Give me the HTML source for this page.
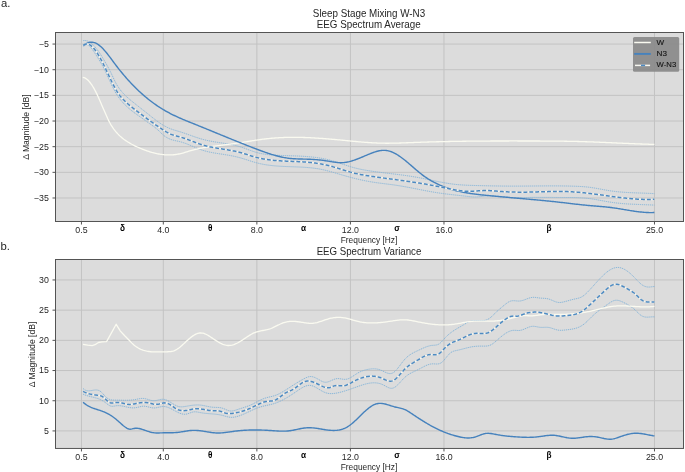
<!DOCTYPE html>
<html><head><meta charset="utf-8"><style>
html,body{margin:0;padding:0;background:#fff;}
svg{display:block;will-change:transform;}
text{font-family:"Liberation Sans",sans-serif;fill:#262626;}
.tk{font-size:8.8px;}
.gk{font-size:8.2px;font-weight:bold;fill:#000;}
.lb{font-size:8.4px;}
.tt{font-size:10.4px;}
.pl{font-size:11.3px;}
.lg{font-size:8.1px;fill:#141414;stroke:#141414;stroke-width:0.12px;}
</style></head><body>
<svg width="685" height="472" viewBox="0 0 685 472">
<rect width="685" height="472" fill="#fff"/>
<text x="1" y="6.6" class="pl">a.</text>
<text x="0.4" y="250.2" class="pl">b.</text>
<text x="369" y="16.7" text-anchor="middle" class="tt" textLength="112.3" lengthAdjust="spacingAndGlyphs">Sleep Stage Mixing W-N3</text>
<text x="368.7" y="27.5" text-anchor="middle" class="tt" textLength="104" lengthAdjust="spacingAndGlyphs">EEG Spectrum Average</text>
<text x="369" y="254.9" text-anchor="middle" class="tt" textLength="104.7" lengthAdjust="spacingAndGlyphs">EEG Spectrum Variance</text>
<rect x="55.5" y="32.5" width="628.0" height="189.0" fill="#dcdcdc"/>
<line x1="81.45" y1="32.5" x2="81.45" y2="221.5" stroke="#c3c3c3" stroke-width="1"/>
<line x1="163.31" y1="32.5" x2="163.31" y2="221.5" stroke="#c3c3c3" stroke-width="1"/>
<line x1="256.87" y1="32.5" x2="256.87" y2="221.5" stroke="#c3c3c3" stroke-width="1"/>
<line x1="350.42" y1="32.5" x2="350.42" y2="221.5" stroke="#c3c3c3" stroke-width="1"/>
<line x1="443.98" y1="32.5" x2="443.98" y2="221.5" stroke="#c3c3c3" stroke-width="1"/>
<line x1="654.48" y1="32.5" x2="654.48" y2="221.5" stroke="#c3c3c3" stroke-width="1"/>
<line x1="55.5" y1="44.06" x2="683.5" y2="44.06" stroke="#c3c3c3" stroke-width="1"/>
<line x1="55.5" y1="69.715" x2="683.5" y2="69.715" stroke="#c3c3c3" stroke-width="1"/>
<line x1="55.5" y1="95.37" x2="683.5" y2="95.37" stroke="#c3c3c3" stroke-width="1"/>
<line x1="55.5" y1="121.025" x2="683.5" y2="121.025" stroke="#c3c3c3" stroke-width="1"/>
<line x1="55.5" y1="146.68" x2="683.5" y2="146.68" stroke="#c3c3c3" stroke-width="1"/>
<line x1="55.5" y1="172.335" x2="683.5" y2="172.335" stroke="#c3c3c3" stroke-width="1"/>
<line x1="55.5" y1="197.99" x2="683.5" y2="197.99" stroke="#c3c3c3" stroke-width="1"/>
<path d="M83.3,40.62 L84.3,40.51 L85.3,40.53 L86.3,40.69 L87.3,40.98 L88.3,41.38 L89.3,41.91 L90.3,42.55 L91.3,43.30 L92.3,44.15 L93.3,45.10 L94.3,46.14 L95.3,47.27 L96.3,48.48 L97.3,49.77 L98.3,51.13 L99.3,52.56 L100.3,54.05 L101.3,55.60 L102.3,57.20 L103.3,58.85 L104.3,60.54 L105.3,62.26 L106.3,64.02 L107.3,65.82 L108.3,67.64 L109.3,69.52 L110.3,71.46 L111.3,73.48 L112.3,75.59 L113.3,77.76 L114.3,79.91 L115.3,81.95 L116.3,83.82 L117.3,85.52 L118.3,87.08 L119.3,88.53 L120.3,89.88 L121.3,91.15 L122.3,92.33 L123.3,93.45 L124.3,94.50 L125.3,95.50 L126.3,96.45 L127.3,97.36 L128.3,98.24 L129.3,99.10 L130.3,99.93 L131.3,100.75 L132.3,101.57 L133.3,102.38 L134.3,103.18 L135.3,103.98 L136.3,104.77 L137.3,105.56 L138.3,106.34 L139.3,107.12 L140.3,107.91 L141.3,108.69 L142.3,109.47 L143.3,110.26 L144.3,111.05 L145.3,111.84 L146.3,112.63 L147.3,113.43 L148.3,114.24 L149.3,115.04 L150.3,115.84 L151.3,116.63 L152.3,117.42 L153.3,118.21 L154.3,118.98 L155.3,119.74 L156.3,120.49 L157.3,121.23 L158.3,121.95 L159.3,122.65 L160.3,123.33 L161.3,123.99 L162.3,124.63 L163.3,125.24 L164.3,125.82 L165.3,126.38 L166.3,126.90 L167.3,127.40 L168.3,127.86 L169.3,128.28 L170.3,128.68 L171.3,129.06 L172.3,129.41 L173.3,129.75 L174.3,130.07 L175.3,130.37 L176.3,130.67 L177.3,130.97 L178.3,131.27 L179.3,131.56 L180.3,131.87 L181.3,132.18 L182.3,132.50 L183.3,132.83 L184.3,133.17 L185.3,133.51 L186.3,133.86 L187.3,134.21 L188.3,134.57 L189.3,134.92 L190.3,135.28 L191.3,135.64 L192.3,136.00 L193.3,136.35 L194.3,136.70 L195.3,137.04 L196.3,137.38 L197.3,137.71 L198.3,138.04 L199.3,138.35 L200.3,138.66 L201.3,138.95 L202.3,139.23 L203.3,139.50 L204.3,139.75 L205.3,140.00 L206.3,140.23 L207.3,140.46 L208.3,140.67 L209.3,140.88 L210.3,141.08 L211.3,141.27 L212.3,141.45 L213.3,141.63 L214.3,141.80 L215.3,141.97 L216.3,142.13 L217.3,142.29 L218.3,142.45 L219.3,142.61 L220.3,142.76 L221.3,142.91 L222.3,143.07 L223.3,143.22 L224.3,143.37 L225.3,143.53 L226.3,143.69 L227.3,143.86 L228.3,144.03 L229.3,144.20 L230.3,144.38 L231.3,144.57 L232.3,144.77 L233.3,144.98 L234.3,145.20 L235.3,145.43 L236.3,145.68 L237.3,145.94 L238.3,146.21 L239.3,146.50 L240.3,146.80 L241.3,147.12 L242.3,147.46 L243.3,147.81 L244.3,148.16 L245.3,148.53 L246.3,148.90 L247.3,149.27 L248.3,149.65 L249.3,150.02 L250.3,150.39 L251.3,150.75 L252.3,151.10 L253.3,151.44 L254.3,151.77 L255.3,152.09 L256.3,152.38 L257.3,152.66 L258.3,152.92 L259.3,153.16 L260.3,153.38 L261.3,153.59 L262.3,153.78 L263.3,153.95 L264.3,154.11 L265.3,154.26 L266.3,154.40 L267.3,154.52 L268.3,154.63 L269.3,154.74 L270.3,154.83 L271.3,154.91 L272.3,154.99 L273.3,155.06 L274.3,155.12 L275.3,155.18 L276.3,155.24 L277.3,155.29 L278.3,155.33 L279.3,155.38 L280.3,155.42 L281.3,155.46 L282.3,155.50 L283.3,155.53 L284.3,155.57 L285.3,155.60 L286.3,155.63 L287.3,155.66 L288.3,155.70 L289.3,155.73 L290.3,155.76 L291.3,155.79 L292.3,155.83 L293.3,155.86 L294.3,155.89 L295.3,155.93 L296.3,155.97 L297.3,156.01 L298.3,156.05 L299.3,156.10 L300.3,156.15 L301.3,156.20 L302.3,156.25 L303.3,156.31 L304.3,156.38 L305.3,156.44 L306.3,156.51 L307.3,156.59 L308.3,156.67 L309.3,156.76 L310.3,156.85 L311.3,156.94 L312.3,157.05 L313.3,157.16 L314.3,157.27 L315.3,157.40 L316.3,157.53 L317.3,157.66 L318.3,157.81 L319.3,157.96 L320.3,158.12 L321.3,158.29 L322.3,158.47 L323.3,158.66 L324.3,158.85 L325.3,159.06 L326.3,159.28 L327.3,159.50 L328.3,159.74 L329.3,159.98 L330.3,160.24 L331.3,160.51 L332.3,160.79 L333.3,161.08 L334.3,161.38 L335.3,161.69 L336.3,162.01 L337.3,162.33 L338.3,162.66 L339.3,162.99 L340.3,163.33 L341.3,163.67 L342.3,164.01 L343.3,164.35 L344.3,164.69 L345.3,165.02 L346.3,165.36 L347.3,165.69 L348.3,166.01 L349.3,166.33 L350.3,166.64 L351.3,166.94 L352.3,167.24 L353.3,167.52 L354.3,167.79 L355.3,168.05 L356.3,168.30 L357.3,168.54 L358.3,168.77 L359.3,168.99 L360.3,169.20 L361.3,169.41 L362.3,169.61 L363.3,169.80 L364.3,169.98 L365.3,170.16 L366.3,170.33 L367.3,170.49 L368.3,170.66 L369.3,170.81 L370.3,170.97 L371.3,171.12 L372.3,171.26 L373.3,171.41 L374.3,171.55 L375.3,171.69 L376.3,171.82 L377.3,171.96 L378.3,172.09 L379.3,172.22 L380.3,172.34 L381.3,172.47 L382.3,172.60 L383.3,172.72 L384.3,172.84 L385.3,172.97 L386.3,173.09 L387.3,173.21 L388.3,173.33 L389.3,173.45 L390.3,173.57 L391.3,173.69 L392.3,173.81 L393.3,173.93 L394.3,174.05 L395.3,174.17 L396.3,174.30 L397.3,174.42 L398.3,174.54 L399.3,174.67 L400.3,174.80 L401.3,174.93 L402.3,175.06 L403.3,175.19 L404.3,175.33 L405.3,175.47 L406.3,175.61 L407.3,175.75 L408.3,175.90 L409.3,176.05 L410.3,176.20 L411.3,176.36 L412.3,176.52 L413.3,176.68 L414.3,176.84 L415.3,177.02 L416.3,177.19 L417.3,177.37 L418.3,177.55 L419.3,177.74 L420.3,177.93 L421.3,178.13 L422.3,178.32 L423.3,178.52 L424.3,178.72 L425.3,178.93 L426.3,179.13 L427.3,179.34 L428.3,179.55 L429.3,179.76 L430.3,179.97 L431.3,180.18 L432.3,180.39 L433.3,180.59 L434.3,180.80 L435.3,181.01 L436.3,181.21 L437.3,181.42 L438.3,181.62 L439.3,181.81 L440.3,182.01 L441.3,182.20 L442.3,182.39 L443.3,182.58 L444.3,182.76 L445.3,182.93 L446.3,183.10 L447.3,183.27 L448.3,183.43 L449.3,183.59 L450.3,183.74 L451.3,183.88 L452.3,184.01 L453.3,184.14 L454.3,184.27 L455.3,184.38 L456.3,184.49 L457.3,184.58 L458.3,184.68 L459.3,184.76 L460.3,184.84 L461.3,184.91 L462.3,184.98 L463.3,185.04 L464.3,185.10 L465.3,185.15 L466.3,185.20 L467.3,185.24 L468.3,185.28 L469.3,185.32 L470.3,185.36 L471.3,185.39 L472.3,185.42 L473.3,185.45 L474.3,185.48 L475.3,185.50 L476.3,185.53 L477.3,185.55 L478.3,185.58 L479.3,185.60 L480.3,185.63 L481.3,185.65 L482.3,185.68 L483.3,185.70 L484.3,185.72 L485.3,185.75 L486.3,185.77 L487.3,185.79 L488.3,185.81 L489.3,185.83 L490.3,185.86 L491.3,185.88 L492.3,185.90 L493.3,185.91 L494.3,185.93 L495.3,185.95 L496.3,185.97 L497.3,185.98 L498.3,186.00 L499.3,186.01 L500.3,186.03 L501.3,186.04 L502.3,186.05 L503.3,186.06 L504.3,186.07 L505.3,186.08 L506.3,186.09 L507.3,186.10 L508.3,186.11 L509.3,186.11 L510.3,186.11 L511.3,186.12 L512.3,186.12 L513.3,186.12 L514.3,186.12 L515.3,186.12 L516.3,186.12 L517.3,186.11 L518.3,186.11 L519.3,186.11 L520.3,186.10 L521.3,186.10 L522.3,186.09 L523.3,186.08 L524.3,186.08 L525.3,186.07 L526.3,186.06 L527.3,186.06 L528.3,186.05 L529.3,186.04 L530.3,186.03 L531.3,186.02 L532.3,186.01 L533.3,186.01 L534.3,186.00 L535.3,185.99 L536.3,185.98 L537.3,185.97 L538.3,185.96 L539.3,185.96 L540.3,185.95 L541.3,185.94 L542.3,185.93 L543.3,185.93 L544.3,185.92 L545.3,185.92 L546.3,185.91 L547.3,185.91 L548.3,185.90 L549.3,185.90 L550.3,185.90 L551.3,185.90 L552.3,185.90 L553.3,185.90 L554.3,185.90 L555.3,185.90 L556.3,185.91 L557.3,185.91 L558.3,185.92 L559.3,185.93 L560.3,185.93 L561.3,185.94 L562.3,185.95 L563.3,185.97 L564.3,185.98 L565.3,186.00 L566.3,186.01 L567.3,186.03 L568.3,186.05 L569.3,186.07 L570.3,186.10 L571.3,186.12 L572.3,186.15 L573.3,186.18 L574.3,186.21 L575.3,186.24 L576.3,186.28 L577.3,186.32 L578.3,186.37 L579.3,186.42 L580.3,186.47 L581.3,186.53 L582.3,186.60 L583.3,186.67 L584.3,186.75 L585.3,186.84 L586.3,186.93 L587.3,187.03 L588.3,187.15 L589.3,187.27 L590.3,187.39 L591.3,187.53 L592.3,187.68 L593.3,187.83 L594.3,188.00 L595.3,188.16 L596.3,188.34 L597.3,188.51 L598.3,188.69 L599.3,188.88 L600.3,189.06 L601.3,189.25 L602.3,189.43 L603.3,189.62 L604.3,189.80 L605.3,189.98 L606.3,190.16 L607.3,190.33 L608.3,190.50 L609.3,190.66 L610.3,190.82 L611.3,190.97 L612.3,191.11 L613.3,191.24 L614.3,191.36 L615.3,191.48 L616.3,191.60 L617.3,191.70 L618.3,191.80 L619.3,191.90 L620.3,191.99 L621.3,192.07 L622.3,192.15 L623.3,192.23 L624.3,192.30 L625.3,192.36 L626.3,192.43 L627.3,192.49 L628.3,192.54 L629.3,192.59 L630.3,192.64 L631.3,192.69 L632.3,192.73 L633.3,192.78 L634.3,192.82 L635.3,192.86 L636.3,192.89 L637.3,192.93 L638.3,192.97 L639.3,193.00 L640.3,193.03 L641.3,193.07 L642.3,193.10 L643.3,193.14 L644.3,193.18 L645.3,193.21 L646.3,193.25 L647.3,193.29 L648.3,193.33 L649.3,193.38 L650.3,193.42 L651.3,193.47 L652.3,193.52 L653.3,193.57 L654.3,193.63 L654.4,193.64" fill="none" stroke="#85b5da" stroke-width="1" stroke-dasharray="1.2 0.8"/>
<path d="M83.3,45.55 L84.3,44.72 L85.3,44.30 L86.3,44.25 L87.3,44.54 L88.3,45.10 L89.3,45.91 L90.3,46.91 L91.3,48.07 L92.3,49.36 L93.3,50.74 L94.3,52.21 L95.3,53.75 L96.3,55.32 L97.3,56.93 L98.3,58.54 L99.3,60.17 L100.3,61.84 L101.3,63.56 L102.3,65.34 L103.3,67.20 L104.3,69.14 L105.3,71.16 L106.3,73.23 L107.3,75.35 L108.3,77.51 L109.3,79.68 L110.3,81.86 L111.3,84.01 L112.3,86.12 L113.3,88.17 L114.3,90.13 L115.3,91.98 L116.3,93.70 L117.3,95.31 L118.3,96.81 L119.3,98.21 L120.3,99.52 L121.3,100.75 L122.3,101.92 L123.3,103.02 L124.3,104.07 L125.3,105.08 L126.3,106.05 L127.3,106.99 L128.3,107.88 L129.3,108.75 L130.3,109.59 L131.3,110.40 L132.3,111.19 L133.3,111.96 L134.3,112.71 L135.3,113.44 L136.3,114.16 L137.3,114.88 L138.3,115.59 L139.3,116.29 L140.3,116.99 L141.3,117.70 L142.3,118.41 L143.3,119.12 L144.3,119.83 L145.3,120.55 L146.3,121.26 L147.3,121.97 L148.3,122.68 L149.3,123.39 L150.3,124.09 L151.3,124.80 L152.3,125.51 L153.3,126.23 L154.3,126.97 L155.3,127.75 L156.3,128.55 L157.3,129.41 L158.3,130.31 L159.3,131.27 L160.3,132.24 L161.3,133.22 L162.3,134.16 L163.3,135.05 L164.3,135.86 L165.3,136.59 L166.3,137.25 L167.3,137.84 L168.3,138.35 L169.3,138.81 L170.3,139.21 L171.3,139.57 L172.3,139.88 L173.3,140.16 L174.3,140.41 L175.3,140.64 L176.3,140.86 L177.3,141.08 L178.3,141.30 L179.3,141.53 L180.3,141.77 L181.3,142.04 L182.3,142.34 L183.3,142.66 L184.3,142.99 L185.3,143.35 L186.3,143.73 L187.3,144.11 L188.3,144.52 L189.3,144.93 L190.3,145.34 L191.3,145.77 L192.3,146.19 L193.3,146.62 L194.3,147.05 L195.3,147.47 L196.3,147.89 L197.3,148.29 L198.3,148.69 L199.3,149.08 L200.3,149.45 L201.3,149.81 L202.3,150.15 L203.3,150.46 L204.3,150.76 L205.3,151.04 L206.3,151.31 L207.3,151.56 L208.3,151.80 L209.3,152.02 L210.3,152.23 L211.3,152.43 L212.3,152.62 L213.3,152.80 L214.3,152.98 L215.3,153.15 L216.3,153.31 L217.3,153.47 L218.3,153.62 L219.3,153.77 L220.3,153.92 L221.3,154.07 L222.3,154.22 L223.3,154.37 L224.3,154.53 L225.3,154.69 L226.3,154.85 L227.3,155.01 L228.3,155.19 L229.3,155.36 L230.3,155.55 L231.3,155.74 L232.3,155.93 L233.3,156.14 L234.3,156.35 L235.3,156.57 L236.3,156.80 L237.3,157.05 L238.3,157.30 L239.3,157.56 L240.3,157.83 L241.3,158.12 L242.3,158.42 L243.3,158.72 L244.3,159.03 L245.3,159.35 L246.3,159.67 L247.3,159.99 L248.3,160.32 L249.3,160.64 L250.3,160.96 L251.3,161.28 L252.3,161.59 L253.3,161.89 L254.3,162.19 L255.3,162.47 L256.3,162.75 L257.3,163.01 L258.3,163.26 L259.3,163.49 L260.3,163.72 L261.3,163.93 L262.3,164.13 L263.3,164.32 L264.3,164.50 L265.3,164.67 L266.3,164.83 L267.3,164.98 L268.3,165.12 L269.3,165.25 L270.3,165.38 L271.3,165.50 L272.3,165.60 L273.3,165.71 L274.3,165.80 L275.3,165.89 L276.3,165.97 L277.3,166.05 L278.3,166.12 L279.3,166.19 L280.3,166.25 L281.3,166.31 L282.3,166.36 L283.3,166.41 L284.3,166.46 L285.3,166.50 L286.3,166.54 L287.3,166.58 L288.3,166.62 L289.3,166.66 L290.3,166.69 L291.3,166.73 L292.3,166.76 L293.3,166.80 L294.3,166.83 L295.3,166.87 L296.3,166.90 L297.3,166.94 L298.3,166.98 L299.3,167.03 L300.3,167.07 L301.3,167.12 L302.3,167.18 L303.3,167.23 L304.3,167.29 L305.3,167.36 L306.3,167.43 L307.3,167.50 L308.3,167.59 L309.3,167.67 L310.3,167.77 L311.3,167.87 L312.3,167.98 L313.3,168.10 L314.3,168.22 L315.3,168.36 L316.3,168.50 L317.3,168.65 L318.3,168.82 L319.3,168.99 L320.3,169.17 L321.3,169.37 L322.3,169.57 L323.3,169.79 L324.3,170.01 L325.3,170.25 L326.3,170.49 L327.3,170.75 L328.3,171.01 L329.3,171.27 L330.3,171.54 L331.3,171.82 L332.3,172.10 L333.3,172.39 L334.3,172.68 L335.3,172.97 L336.3,173.27 L337.3,173.56 L338.3,173.86 L339.3,174.16 L340.3,174.45 L341.3,174.75 L342.3,175.04 L343.3,175.33 L344.3,175.61 L345.3,175.90 L346.3,176.18 L347.3,176.46 L348.3,176.73 L349.3,177.00 L350.3,177.27 L351.3,177.53 L352.3,177.80 L353.3,178.05 L354.3,178.30 L355.3,178.55 L356.3,178.80 L357.3,179.04 L358.3,179.27 L359.3,179.50 L360.3,179.73 L361.3,179.95 L362.3,180.17 L363.3,180.38 L364.3,180.59 L365.3,180.79 L366.3,180.99 L367.3,181.18 L368.3,181.36 L369.3,181.54 L370.3,181.72 L371.3,181.89 L372.3,182.05 L373.3,182.21 L374.3,182.36 L375.3,182.50 L376.3,182.65 L377.3,182.79 L378.3,182.92 L379.3,183.06 L380.3,183.19 L381.3,183.32 L382.3,183.44 L383.3,183.57 L384.3,183.69 L385.3,183.82 L386.3,183.94 L387.3,184.07 L388.3,184.19 L389.3,184.32 L390.3,184.45 L391.3,184.58 L392.3,184.71 L393.3,184.85 L394.3,184.99 L395.3,185.14 L396.3,185.29 L397.3,185.44 L398.3,185.60 L399.3,185.76 L400.3,185.92 L401.3,186.09 L402.3,186.26 L403.3,186.43 L404.3,186.61 L405.3,186.79 L406.3,186.97 L407.3,187.16 L408.3,187.35 L409.3,187.53 L410.3,187.72 L411.3,187.92 L412.3,188.11 L413.3,188.30 L414.3,188.50 L415.3,188.69 L416.3,188.89 L417.3,189.09 L418.3,189.28 L419.3,189.48 L420.3,189.67 L421.3,189.87 L422.3,190.06 L423.3,190.26 L424.3,190.45 L425.3,190.64 L426.3,190.83 L427.3,191.01 L428.3,191.20 L429.3,191.38 L430.3,191.56 L431.3,191.74 L432.3,191.91 L433.3,192.09 L434.3,192.25 L435.3,192.42 L436.3,192.58 L437.3,192.74 L438.3,192.89 L439.3,193.04 L440.3,193.19 L441.3,193.33 L442.3,193.46 L443.3,193.60 L444.3,193.73 L445.3,193.86 L446.3,193.99 L447.3,194.11 L448.3,194.23 L449.3,194.35 L450.3,194.47 L451.3,194.58 L452.3,194.70 L453.3,194.81 L454.3,194.92 L455.3,195.03 L456.3,195.14 L457.3,195.25 L458.3,195.36 L459.3,195.47 L460.3,195.58 L461.3,195.69 L462.3,195.81 L463.3,195.92 L464.3,196.03 L465.3,196.15 L466.3,196.26 L467.3,196.38 L468.3,196.49 L469.3,196.60 L470.3,196.71 L471.3,196.80 L472.3,196.87 L473.3,196.93 L474.3,196.97 L475.3,196.98 L476.3,196.96 L477.3,196.92 L478.3,196.84 L479.3,196.74 L480.3,196.63 L481.3,196.50 L482.3,196.36 L483.3,196.22 L484.3,196.08 L485.3,195.96 L486.3,195.85 L487.3,195.76 L488.3,195.70 L489.3,195.66 L490.3,195.64 L491.3,195.65 L492.3,195.68 L493.3,195.72 L494.3,195.78 L495.3,195.86 L496.3,195.95 L497.3,196.04 L498.3,196.15 L499.3,196.26 L500.3,196.38 L501.3,196.50 L502.3,196.63 L503.3,196.75 L504.3,196.87 L505.3,196.99 L506.3,197.10 L507.3,197.20 L508.3,197.29 L509.3,197.37 L510.3,197.44 L511.3,197.50 L512.3,197.55 L513.3,197.58 L514.3,197.61 L515.3,197.64 L516.3,197.65 L517.3,197.66 L518.3,197.66 L519.3,197.65 L520.3,197.64 L521.3,197.63 L522.3,197.61 L523.3,197.59 L524.3,197.57 L525.3,197.55 L526.3,197.52 L527.3,197.50 L528.3,197.48 L529.3,197.45 L530.3,197.44 L531.3,197.42 L532.3,197.40 L533.3,197.39 L534.3,197.38 L535.3,197.37 L536.3,197.37 L537.3,197.36 L538.3,197.36 L539.3,197.36 L540.3,197.36 L541.3,197.36 L542.3,197.36 L543.3,197.36 L544.3,197.37 L545.3,197.37 L546.3,197.38 L547.3,197.39 L548.3,197.39 L549.3,197.40 L550.3,197.41 L551.3,197.42 L552.3,197.43 L553.3,197.43 L554.3,197.44 L555.3,197.45 L556.3,197.46 L557.3,197.46 L558.3,197.47 L559.3,197.48 L560.3,197.48 L561.3,197.48 L562.3,197.49 L563.3,197.49 L564.3,197.49 L565.3,197.50 L566.3,197.50 L567.3,197.50 L568.3,197.51 L569.3,197.51 L570.3,197.52 L571.3,197.53 L572.3,197.55 L573.3,197.57 L574.3,197.59 L575.3,197.61 L576.3,197.64 L577.3,197.67 L578.3,197.71 L579.3,197.76 L580.3,197.81 L581.3,197.86 L582.3,197.92 L583.3,197.99 L584.3,198.07 L585.3,198.15 L586.3,198.25 L587.3,198.35 L588.3,198.46 L589.3,198.57 L590.3,198.70 L591.3,198.84 L592.3,198.99 L593.3,199.14 L594.3,199.30 L595.3,199.47 L596.3,199.64 L597.3,199.82 L598.3,200.00 L599.3,200.18 L600.3,200.36 L601.3,200.55 L602.3,200.74 L603.3,200.92 L604.3,201.11 L605.3,201.29 L606.3,201.47 L607.3,201.65 L608.3,201.82 L609.3,201.98 L610.3,202.14 L611.3,202.29 L612.3,202.44 L613.3,202.58 L614.3,202.71 L615.3,202.83 L616.3,202.95 L617.3,203.07 L618.3,203.17 L619.3,203.28 L620.3,203.37 L621.3,203.46 L622.3,203.55 L623.3,203.63 L624.3,203.71 L625.3,203.78 L626.3,203.85 L627.3,203.92 L628.3,203.98 L629.3,204.04 L630.3,204.10 L631.3,204.15 L632.3,204.20 L633.3,204.25 L634.3,204.29 L635.3,204.34 L636.3,204.38 L637.3,204.42 L638.3,204.46 L639.3,204.50 L640.3,204.54 L641.3,204.57 L642.3,204.61 L643.3,204.65 L644.3,204.68 L645.3,204.72 L646.3,204.76 L647.3,204.80 L648.3,204.84 L649.3,204.88 L650.3,204.92 L651.3,204.96 L652.3,205.01 L653.3,205.05 L654.3,205.10 L654.4,205.11" fill="none" stroke="#85b5da" stroke-width="1" stroke-dasharray="1.2 0.8"/>
<path d="M82.8,77.28 L83.8,77.51 L84.8,77.91 L85.8,78.47 L86.8,79.19 L87.8,80.06 L88.8,81.07 L89.8,82.23 L90.8,83.52 L91.8,84.94 L92.8,86.49 L93.8,88.17 L94.8,89.95 L95.8,91.86 L96.8,93.87 L97.8,95.98 L98.8,98.19 L99.8,100.47 L100.8,102.80 L101.8,105.15 L102.8,107.47 L103.8,109.77 L104.8,112.05 L105.8,114.32 L106.8,116.58 L107.8,118.79 L108.8,120.86 L109.8,122.78 L110.8,124.56 L111.8,126.20 L112.8,127.71 L113.8,129.12 L114.8,130.44 L115.8,131.66 L116.8,132.81 L117.8,133.90 L118.8,134.91 L119.8,135.87 L120.8,136.77 L121.8,137.62 L122.8,138.42 L123.8,139.19 L124.8,139.91 L125.8,140.61 L126.8,141.27 L127.8,141.92 L128.8,142.54 L129.8,143.13 L130.8,143.71 L131.8,144.27 L132.8,144.80 L133.8,145.32 L134.8,145.82 L135.8,146.30 L136.8,146.77 L137.8,147.22 L138.8,147.66 L139.8,148.09 L140.8,148.50 L141.8,148.91 L142.8,149.30 L143.8,149.68 L144.8,150.06 L145.8,150.42 L146.8,150.77 L147.8,151.11 L148.8,151.44 L149.8,151.76 L150.8,152.06 L151.8,152.36 L152.8,152.63 L153.8,152.90 L154.8,153.15 L155.8,153.38 L156.8,153.60 L157.8,153.81 L158.8,154.00 L159.8,154.17 L160.8,154.33 L161.8,154.47 L162.8,154.60 L163.8,154.70 L164.8,154.79 L165.8,154.86 L166.8,154.91 L167.8,154.94 L168.8,154.96 L169.8,154.95 L170.8,154.93 L171.8,154.89 L172.8,154.82 L173.8,154.74 L174.8,154.64 L175.8,154.51 L176.8,154.37 L177.8,154.20 L178.8,154.01 L179.8,153.80 L180.8,153.57 L181.8,153.32 L182.8,153.05 L183.8,152.77 L184.8,152.47 L185.8,152.17 L186.8,151.86 L187.8,151.55 L188.8,151.24 L189.8,150.93 L190.8,150.63 L191.8,150.34 L192.8,150.07 L193.8,149.80 L194.8,149.55 L195.8,149.30 L196.8,149.07 L197.8,148.84 L198.8,148.62 L199.8,148.42 L200.8,148.22 L201.8,148.03 L202.8,147.84 L203.8,147.66 L204.8,147.49 L205.8,147.33 L206.8,147.17 L207.8,147.01 L208.8,146.86 L209.8,146.72 L210.8,146.58 L211.8,146.44 L212.8,146.30 L213.8,146.17 L214.8,146.04 L215.8,145.91 L216.8,145.79 L217.8,145.66 L218.8,145.54 L219.8,145.42 L220.8,145.30 L221.8,145.18 L222.8,145.06 L223.8,144.94 L224.8,144.81 L225.8,144.69 L226.8,144.57 L227.8,144.45 L228.8,144.32 L229.8,144.19 L230.8,144.06 L231.8,143.93 L232.8,143.79 L233.8,143.65 L234.8,143.51 L235.8,143.37 L236.8,143.22 L237.8,143.07 L238.8,142.92 L239.8,142.76 L240.8,142.61 L241.8,142.45 L242.8,142.29 L243.8,142.13 L244.8,141.97 L245.8,141.81 L246.8,141.65 L247.8,141.49 L248.8,141.32 L249.8,141.16 L250.8,141.00 L251.8,140.84 L252.8,140.69 L253.8,140.53 L254.8,140.37 L255.8,140.22 L256.8,140.07 L257.8,139.92 L258.8,139.78 L259.8,139.64 L260.8,139.50 L261.8,139.36 L262.8,139.23 L263.8,139.10 L264.8,138.98 L265.8,138.86 L266.8,138.74 L267.8,138.63 L268.8,138.53 L269.8,138.43 L270.8,138.33 L271.8,138.24 L272.8,138.16 L273.8,138.07 L274.8,138.00 L275.8,137.93 L276.8,137.86 L277.8,137.79 L278.8,137.73 L279.8,137.68 L280.8,137.63 L281.8,137.58 L282.8,137.54 L283.8,137.50 L284.8,137.47 L285.8,137.44 L286.8,137.41 L287.8,137.39 L288.8,137.37 L289.8,137.35 L290.8,137.34 L291.8,137.33 L292.8,137.33 L293.8,137.32 L294.8,137.33 L295.8,137.33 L296.8,137.34 L297.8,137.35 L298.8,137.37 L299.8,137.39 L300.8,137.41 L301.8,137.43 L302.8,137.46 L303.8,137.49 L304.8,137.52 L305.8,137.55 L306.8,137.59 L307.8,137.63 L308.8,137.68 L309.8,137.72 L310.8,137.77 L311.8,137.82 L312.8,137.87 L313.8,137.93 L314.8,137.99 L315.8,138.05 L316.8,138.11 L317.8,138.17 L318.8,138.24 L319.8,138.30 L320.8,138.37 L321.8,138.45 L322.8,138.52 L323.8,138.59 L324.8,138.67 L325.8,138.75 L326.8,138.83 L327.8,138.91 L328.8,138.99 L329.8,139.07 L330.8,139.16 L331.8,139.25 L332.8,139.33 L333.8,139.42 L334.8,139.51 L335.8,139.60 L336.8,139.69 L337.8,139.79 L338.8,139.88 L339.8,139.97 L340.8,140.07 L341.8,140.16 L342.8,140.26 L343.8,140.36 L344.8,140.45 L345.8,140.55 L346.8,140.65 L347.8,140.75 L348.8,140.84 L349.8,140.94 L350.8,141.04 L351.8,141.13 L352.8,141.23 L353.8,141.32 L354.8,141.42 L355.8,141.51 L356.8,141.60 L357.8,141.69 L358.8,141.78 L359.8,141.87 L360.8,141.96 L361.8,142.04 L362.8,142.12 L363.8,142.20 L364.8,142.28 L365.8,142.36 L366.8,142.43 L367.8,142.50 L368.8,142.57 L369.8,142.64 L370.8,142.70 L371.8,142.76 L372.8,142.82 L373.8,142.87 L374.8,142.92 L375.8,142.97 L376.8,143.02 L377.8,143.06 L378.8,143.09 L379.8,143.12 L380.8,143.15 L381.8,143.18 L382.8,143.19 L383.8,143.21 L384.8,143.22 L385.8,143.23 L386.8,143.23 L387.8,143.23 L388.8,143.23 L389.8,143.22 L390.8,143.21 L391.8,143.20 L392.8,143.19 L393.8,143.17 L394.8,143.15 L395.8,143.12 L396.8,143.10 L397.8,143.07 L398.8,143.04 L399.8,143.01 L400.8,142.98 L401.8,142.95 L402.8,142.91 L403.8,142.88 L404.8,142.84 L405.8,142.80 L406.8,142.76 L407.8,142.73 L408.8,142.69 L409.8,142.65 L410.8,142.61 L411.8,142.57 L412.8,142.53 L413.8,142.49 L414.8,142.46 L415.8,142.42 L416.8,142.38 L417.8,142.35 L418.8,142.31 L419.8,142.28 L420.8,142.24 L421.8,142.21 L422.8,142.18 L423.8,142.15 L424.8,142.11 L425.8,142.08 L426.8,142.05 L427.8,142.02 L428.8,141.99 L429.8,141.96 L430.8,141.94 L431.8,141.91 L432.8,141.88 L433.8,141.85 L434.8,141.83 L435.8,141.80 L436.8,141.77 L437.8,141.75 L438.8,141.73 L439.8,141.70 L440.8,141.68 L441.8,141.65 L442.8,141.63 L443.8,141.61 L444.8,141.59 L445.8,141.57 L446.8,141.55 L447.8,141.53 L448.8,141.51 L449.8,141.49 L450.8,141.47 L451.8,141.45 L452.8,141.43 L453.8,141.41 L454.8,141.40 L455.8,141.38 L456.8,141.36 L457.8,141.35 L458.8,141.33 L459.8,141.32 L460.8,141.30 L461.8,141.29 L462.8,141.27 L463.8,141.26 L464.8,141.25 L465.8,141.23 L466.8,141.22 L467.8,141.21 L468.8,141.20 L469.8,141.19 L470.8,141.18 L471.8,141.17 L472.8,141.15 L473.8,141.14 L474.8,141.14 L475.8,141.13 L476.8,141.12 L477.8,141.11 L478.8,141.10 L479.8,141.09 L480.8,141.08 L481.8,141.08 L482.8,141.07 L483.8,141.06 L484.8,141.06 L485.8,141.05 L486.8,141.04 L487.8,141.04 L488.8,141.03 L489.8,141.03 L490.8,141.02 L491.8,141.02 L492.8,141.01 L493.8,141.01 L494.8,141.01 L495.8,141.00 L496.8,141.00 L497.8,141.00 L498.8,140.99 L499.8,140.99 L500.8,140.99 L501.8,140.99 L502.8,140.98 L503.8,140.98 L504.8,140.98 L505.8,140.98 L506.8,140.98 L507.8,140.98 L508.8,140.98 L509.8,140.97 L510.8,140.97 L511.8,140.97 L512.8,140.97 L513.8,140.97 L514.8,140.97 L515.8,140.97 L516.8,140.97 L517.8,140.98 L518.8,140.98 L519.8,140.98 L520.8,140.98 L521.8,140.98 L522.8,140.98 L523.8,140.98 L524.8,140.98 L525.8,140.99 L526.8,140.99 L527.8,140.99 L528.8,140.99 L529.8,140.99 L530.8,140.99 L531.8,141.00 L532.8,141.00 L533.8,141.00 L534.8,141.00 L535.8,141.01 L536.8,141.01 L537.8,141.01 L538.8,141.02 L539.8,141.02 L540.8,141.03 L541.8,141.03 L542.8,141.03 L543.8,141.04 L544.8,141.04 L545.8,141.05 L546.8,141.06 L547.8,141.06 L548.8,141.07 L549.8,141.08 L550.8,141.08 L551.8,141.09 L552.8,141.10 L553.8,141.11 L554.8,141.12 L555.8,141.13 L556.8,141.14 L557.8,141.15 L558.8,141.16 L559.8,141.17 L560.8,141.18 L561.8,141.20 L562.8,141.21 L563.8,141.22 L564.8,141.24 L565.8,141.25 L566.8,141.27 L567.8,141.29 L568.8,141.31 L569.8,141.32 L570.8,141.34 L571.8,141.36 L572.8,141.38 L573.8,141.40 L574.8,141.43 L575.8,141.45 L576.8,141.47 L577.8,141.50 L578.8,141.52 L579.8,141.55 L580.8,141.58 L581.8,141.61 L582.8,141.63 L583.8,141.66 L584.8,141.70 L585.8,141.73 L586.8,141.76 L587.8,141.79 L588.8,141.83 L589.8,141.86 L590.8,141.90 L591.8,141.94 L592.8,141.97 L593.8,142.01 L594.8,142.05 L595.8,142.09 L596.8,142.13 L597.8,142.17 L598.8,142.21 L599.8,142.25 L600.8,142.29 L601.8,142.33 L602.8,142.37 L603.8,142.42 L604.8,142.46 L605.8,142.50 L606.8,142.55 L607.8,142.59 L608.8,142.63 L609.8,142.68 L610.8,142.72 L611.8,142.77 L612.8,142.81 L613.8,142.86 L614.8,142.90 L615.8,142.95 L616.8,142.99 L617.8,143.03 L618.8,143.08 L619.8,143.12 L620.8,143.17 L621.8,143.21 L622.8,143.26 L623.8,143.30 L624.8,143.34 L625.8,143.39 L626.8,143.43 L627.8,143.47 L628.8,143.52 L629.8,143.56 L630.8,143.60 L631.8,143.64 L632.8,143.68 L633.8,143.72 L634.8,143.76 L635.8,143.80 L636.8,143.84 L637.8,143.88 L638.8,143.91 L639.8,143.95 L640.8,143.99 L641.8,144.02 L642.8,144.06 L643.8,144.09 L644.8,144.12 L645.8,144.16 L646.8,144.19 L647.8,144.22 L648.8,144.25 L649.8,144.28 L650.8,144.30 L651.8,144.33 L652.8,144.36 L653.8,144.38 L654.4,144.39" fill="none" stroke="#fafaf0" stroke-width="1.3" stroke-linejoin="round" stroke-linecap="butt"/>
<path d="M83.3,46.11 L84.3,45.17 L85.3,44.36 L86.3,43.69 L87.3,43.14 L88.3,42.71 L89.3,42.41 L90.3,42.22 L91.3,42.15 L92.3,42.19 L93.3,42.34 L94.3,42.60 L95.3,42.96 L96.3,43.42 L97.3,43.98 L98.3,44.63 L99.3,45.37 L100.3,46.20 L101.3,47.10 L102.3,48.07 L103.3,49.11 L104.3,50.21 L105.3,51.36 L106.3,52.56 L107.3,53.80 L108.3,55.07 L109.3,56.37 L110.3,57.69 L111.3,59.03 L112.3,60.37 L113.3,61.72 L114.3,63.07 L115.3,64.40 L116.3,65.72 L117.3,67.02 L118.3,68.31 L119.3,69.58 L120.3,70.82 L121.3,72.06 L122.3,73.27 L123.3,74.47 L124.3,75.65 L125.3,76.82 L126.3,77.96 L127.3,79.10 L128.3,80.21 L129.3,81.31 L130.3,82.39 L131.3,83.46 L132.3,84.51 L133.3,85.54 L134.3,86.56 L135.3,87.56 L136.3,88.54 L137.3,89.51 L138.3,90.47 L139.3,91.41 L140.3,92.33 L141.3,93.24 L142.3,94.14 L143.3,95.02 L144.3,95.88 L145.3,96.73 L146.3,97.57 L147.3,98.39 L148.3,99.19 L149.3,99.98 L150.3,100.76 L151.3,101.53 L152.3,102.28 L153.3,103.01 L154.3,103.73 L155.3,104.44 L156.3,105.14 L157.3,105.82 L158.3,106.48 L159.3,107.14 L160.3,107.78 L161.3,108.41 L162.3,109.02 L163.3,109.63 L164.3,110.21 L165.3,110.79 L166.3,111.36 L167.3,111.91 L168.3,112.45 L169.3,112.99 L170.3,113.51 L171.3,114.02 L172.3,114.52 L173.3,115.02 L174.3,115.50 L175.3,115.98 L176.3,116.45 L177.3,116.91 L178.3,117.36 L179.3,117.81 L180.3,118.25 L181.3,118.69 L182.3,119.12 L183.3,119.54 L184.3,119.96 L185.3,120.38 L186.3,120.80 L187.3,121.21 L188.3,121.61 L189.3,122.02 L190.3,122.42 L191.3,122.82 L192.3,123.22 L193.3,123.62 L194.3,124.02 L195.3,124.42 L196.3,124.82 L197.3,125.22 L198.3,125.63 L199.3,126.03 L200.3,126.43 L201.3,126.84 L202.3,127.24 L203.3,127.65 L204.3,128.06 L205.3,128.46 L206.3,128.87 L207.3,129.28 L208.3,129.69 L209.3,130.10 L210.3,130.51 L211.3,130.92 L212.3,131.33 L213.3,131.74 L214.3,132.16 L215.3,132.57 L216.3,132.98 L217.3,133.39 L218.3,133.80 L219.3,134.21 L220.3,134.62 L221.3,135.04 L222.3,135.45 L223.3,135.86 L224.3,136.27 L225.3,136.68 L226.3,137.09 L227.3,137.50 L228.3,137.91 L229.3,138.31 L230.3,138.72 L231.3,139.13 L232.3,139.54 L233.3,139.94 L234.3,140.35 L235.3,140.75 L236.3,141.16 L237.3,141.56 L238.3,141.96 L239.3,142.36 L240.3,142.76 L241.3,143.16 L242.3,143.56 L243.3,143.96 L244.3,144.35 L245.3,144.75 L246.3,145.14 L247.3,145.53 L248.3,145.93 L249.3,146.32 L250.3,146.71 L251.3,147.09 L252.3,147.48 L253.3,147.86 L254.3,148.25 L255.3,148.63 L256.3,149.01 L257.3,149.39 L258.3,149.76 L259.3,150.14 L260.3,150.51 L261.3,150.88 L262.3,151.24 L263.3,151.60 L264.3,151.96 L265.3,152.31 L266.3,152.66 L267.3,153.00 L268.3,153.33 L269.3,153.66 L270.3,153.98 L271.3,154.30 L272.3,154.61 L273.3,154.91 L274.3,155.20 L275.3,155.48 L276.3,155.76 L277.3,156.02 L278.3,156.28 L279.3,156.52 L280.3,156.75 L281.3,156.98 L282.3,157.19 L283.3,157.39 L284.3,157.58 L285.3,157.75 L286.3,157.92 L287.3,158.07 L288.3,158.20 L289.3,158.32 L290.3,158.43 L291.3,158.53 L292.3,158.62 L293.3,158.70 L294.3,158.76 L295.3,158.82 L296.3,158.87 L297.3,158.92 L298.3,158.96 L299.3,158.99 L300.3,159.02 L301.3,159.05 L302.3,159.07 L303.3,159.10 L304.3,159.12 L305.3,159.15 L306.3,159.17 L307.3,159.20 L308.3,159.23 L309.3,159.26 L310.3,159.30 L311.3,159.35 L312.3,159.40 L313.3,159.46 L314.3,159.52 L315.3,159.59 L316.3,159.67 L317.3,159.75 L318.3,159.84 L319.3,159.94 L320.3,160.05 L321.3,160.16 L322.3,160.28 L323.3,160.41 L324.3,160.54 L325.3,160.69 L326.3,160.84 L327.3,161.00 L328.3,161.17 L329.3,161.34 L330.3,161.51 L331.3,161.68 L332.3,161.85 L333.3,162.00 L334.3,162.15 L335.3,162.29 L336.3,162.41 L337.3,162.51 L338.3,162.59 L339.3,162.65 L340.3,162.69 L341.3,162.69 L342.3,162.66 L343.3,162.60 L344.3,162.51 L345.3,162.39 L346.3,162.23 L347.3,162.05 L348.3,161.84 L349.3,161.61 L350.3,161.35 L351.3,161.07 L352.3,160.77 L353.3,160.45 L354.3,160.12 L355.3,159.76 L356.3,159.40 L357.3,159.02 L358.3,158.63 L359.3,158.23 L360.3,157.82 L361.3,157.41 L362.3,156.99 L363.3,156.57 L364.3,156.15 L365.3,155.72 L366.3,155.30 L367.3,154.88 L368.3,154.47 L369.3,154.06 L370.3,153.66 L371.3,153.27 L372.3,152.89 L373.3,152.52 L374.3,152.17 L375.3,151.84 L376.3,151.54 L377.3,151.26 L378.3,151.01 L379.3,150.80 L380.3,150.62 L381.3,150.48 L382.3,150.39 L383.3,150.34 L384.3,150.33 L385.3,150.39 L386.3,150.49 L387.3,150.65 L388.3,150.86 L389.3,151.12 L390.3,151.42 L391.3,151.77 L392.3,152.17 L393.3,152.61 L394.3,153.09 L395.3,153.61 L396.3,154.17 L397.3,154.77 L398.3,155.40 L399.3,156.06 L400.3,156.75 L401.3,157.47 L402.3,158.21 L403.3,158.98 L404.3,159.77 L405.3,160.57 L406.3,161.39 L407.3,162.22 L408.3,163.07 L409.3,163.93 L410.3,164.79 L411.3,165.65 L412.3,166.52 L413.3,167.39 L414.3,168.26 L415.3,169.12 L416.3,169.97 L417.3,170.82 L418.3,171.65 L419.3,172.48 L420.3,173.28 L421.3,174.07 L422.3,174.84 L423.3,175.58 L424.3,176.31 L425.3,177.01 L426.3,177.69 L427.3,178.35 L428.3,178.99 L429.3,179.62 L430.3,180.22 L431.3,180.81 L432.3,181.37 L433.3,181.92 L434.3,182.46 L435.3,182.97 L436.3,183.47 L437.3,183.96 L438.3,184.43 L439.3,184.88 L440.3,185.32 L441.3,185.75 L442.3,186.16 L443.3,186.56 L444.3,186.95 L445.3,187.32 L446.3,187.68 L447.3,188.03 L448.3,188.37 L449.3,188.70 L450.3,189.02 L451.3,189.32 L452.3,189.62 L453.3,189.90 L454.3,190.18 L455.3,190.45 L456.3,190.70 L457.3,190.95 L458.3,191.19 L459.3,191.42 L460.3,191.64 L461.3,191.85 L462.3,192.06 L463.3,192.26 L464.3,192.45 L465.3,192.63 L466.3,192.81 L467.3,192.98 L468.3,193.15 L469.3,193.31 L470.3,193.46 L471.3,193.61 L472.3,193.75 L473.3,193.89 L474.3,194.02 L475.3,194.15 L476.3,194.28 L477.3,194.40 L478.3,194.52 L479.3,194.63 L480.3,194.75 L481.3,194.86 L482.3,194.96 L483.3,195.07 L484.3,195.17 L485.3,195.27 L486.3,195.37 L487.3,195.47 L488.3,195.57 L489.3,195.67 L490.3,195.76 L491.3,195.86 L492.3,195.96 L493.3,196.05 L494.3,196.14 L495.3,196.24 L496.3,196.33 L497.3,196.42 L498.3,196.52 L499.3,196.61 L500.3,196.70 L501.3,196.79 L502.3,196.88 L503.3,196.97 L504.3,197.06 L505.3,197.15 L506.3,197.24 L507.3,197.32 L508.3,197.41 L509.3,197.50 L510.3,197.59 L511.3,197.68 L512.3,197.76 L513.3,197.85 L514.3,197.94 L515.3,198.03 L516.3,198.11 L517.3,198.20 L518.3,198.29 L519.3,198.38 L520.3,198.46 L521.3,198.55 L522.3,198.64 L523.3,198.73 L524.3,198.81 L525.3,198.90 L526.3,198.99 L527.3,199.08 L528.3,199.17 L529.3,199.26 L530.3,199.35 L531.3,199.44 L532.3,199.53 L533.3,199.62 L534.3,199.71 L535.3,199.80 L536.3,199.89 L537.3,199.99 L538.3,200.08 L539.3,200.17 L540.3,200.27 L541.3,200.36 L542.3,200.46 L543.3,200.56 L544.3,200.65 L545.3,200.75 L546.3,200.85 L547.3,200.95 L548.3,201.05 L549.3,201.15 L550.3,201.25 L551.3,201.36 L552.3,201.46 L553.3,201.56 L554.3,201.67 L555.3,201.78 L556.3,201.88 L557.3,201.99 L558.3,202.10 L559.3,202.21 L560.3,202.33 L561.3,202.44 L562.3,202.55 L563.3,202.67 L564.3,202.79 L565.3,202.90 L566.3,203.02 L567.3,203.14 L568.3,203.26 L569.3,203.37 L570.3,203.49 L571.3,203.61 L572.3,203.73 L573.3,203.85 L574.3,203.96 L575.3,204.08 L576.3,204.20 L577.3,204.31 L578.3,204.42 L579.3,204.54 L580.3,204.65 L581.3,204.76 L582.3,204.86 L583.3,204.97 L584.3,205.07 L585.3,205.17 L586.3,205.27 L587.3,205.37 L588.3,205.46 L589.3,205.55 L590.3,205.64 L591.3,205.73 L592.3,205.81 L593.3,205.89 L594.3,205.97 L595.3,206.05 L596.3,206.13 L597.3,206.21 L598.3,206.29 L599.3,206.37 L600.3,206.45 L601.3,206.53 L602.3,206.62 L603.3,206.70 L604.3,206.79 L605.3,206.89 L606.3,206.99 L607.3,207.09 L608.3,207.20 L609.3,207.31 L610.3,207.43 L611.3,207.56 L612.3,207.69 L613.3,207.83 L614.3,207.98 L615.3,208.12 L616.3,208.28 L617.3,208.43 L618.3,208.59 L619.3,208.75 L620.3,208.92 L621.3,209.08 L622.3,209.25 L623.3,209.42 L624.3,209.59 L625.3,209.76 L626.3,209.93 L627.3,210.09 L628.3,210.26 L629.3,210.42 L630.3,210.58 L631.3,210.74 L632.3,210.90 L633.3,211.05 L634.3,211.20 L635.3,211.34 L636.3,211.48 L637.3,211.61 L638.3,211.74 L639.3,211.86 L640.3,211.97 L641.3,212.07 L642.3,212.17 L643.3,212.26 L644.3,212.34 L645.3,212.41 L646.3,212.47 L647.3,212.52 L648.3,212.56 L649.3,212.58 L650.3,212.60 L651.3,212.60 L652.3,212.59 L653.3,212.57 L654.3,212.53 L654.4,212.53" fill="none" stroke="#4682bd" stroke-width="1.4" stroke-linejoin="round"/>
<path d="M83.3,45.14 L84.3,44.53 L85.3,44.15 L86.3,43.98 L87.3,44.01 L88.3,44.23 L89.3,44.64 L90.3,45.21 L91.3,45.95 L92.3,46.83 L93.3,47.86 L94.3,49.02 L95.3,50.31 L96.3,51.70 L97.3,53.20 L98.3,54.80 L99.3,56.48 L100.3,58.25 L101.3,60.10 L102.3,62.01 L103.3,63.99 L104.3,66.03 L105.3,68.10 L106.3,70.21 L107.3,72.34 L108.3,74.47 L109.3,76.60 L110.3,78.70 L111.3,80.78 L112.3,82.81 L113.3,84.79 L114.3,86.70 L115.3,88.53 L116.3,90.27 L117.3,91.91 L118.3,93.43 L119.3,94.84 L120.3,96.15 L121.3,97.37 L122.3,98.50 L123.3,99.57 L124.3,100.57 L125.3,101.53 L126.3,102.45 L127.3,103.34 L128.3,104.22 L129.3,105.07 L130.3,105.91 L131.3,106.73 L132.3,107.54 L133.3,108.33 L134.3,109.12 L135.3,109.89 L136.3,110.66 L137.3,111.42 L138.3,112.17 L139.3,112.92 L140.3,113.66 L141.3,114.40 L142.3,115.15 L143.3,115.89 L144.3,116.63 L145.3,117.36 L146.3,118.10 L147.3,118.83 L148.3,119.57 L149.3,120.29 L150.3,121.02 L151.3,121.74 L152.3,122.46 L153.3,123.17 L154.3,123.88 L155.3,124.58 L156.3,125.28 L157.3,125.97 L158.3,126.65 L159.3,127.33 L160.3,128.00 L161.3,128.67 L162.3,129.33 L163.3,129.98 L164.3,130.62 L165.3,131.24 L166.3,131.85 L167.3,132.43 L168.3,132.98 L169.3,133.48 L170.3,133.95 L171.3,134.36 L172.3,134.74 L173.3,135.08 L174.3,135.39 L175.3,135.68 L176.3,135.95 L177.3,136.22 L178.3,136.48 L179.3,136.74 L180.3,137.02 L181.3,137.31 L182.3,137.61 L183.3,137.93 L184.3,138.27 L185.3,138.62 L186.3,138.97 L187.3,139.34 L188.3,139.71 L189.3,140.09 L190.3,140.48 L191.3,140.87 L192.3,141.25 L193.3,141.64 L194.3,142.03 L195.3,142.41 L196.3,142.79 L197.3,143.16 L198.3,143.52 L199.3,143.88 L200.3,144.22 L201.3,144.55 L202.3,144.86 L203.3,145.16 L204.3,145.45 L205.3,145.72 L206.3,145.98 L207.3,146.23 L208.3,146.46 L209.3,146.69 L210.3,146.91 L211.3,147.11 L212.3,147.31 L213.3,147.51 L214.3,147.69 L215.3,147.87 L216.3,148.04 L217.3,148.21 L218.3,148.38 L219.3,148.54 L220.3,148.70 L221.3,148.86 L222.3,149.02 L223.3,149.18 L224.3,149.33 L225.3,149.49 L226.3,149.65 L227.3,149.82 L228.3,149.99 L229.3,150.16 L230.3,150.33 L231.3,150.52 L232.3,150.70 L233.3,150.90 L234.3,151.10 L235.3,151.31 L236.3,151.54 L237.3,151.77 L238.3,152.01 L239.3,152.26 L240.3,152.53 L241.3,152.81 L242.3,153.10 L243.3,153.39 L244.3,153.70 L245.3,154.01 L246.3,154.32 L247.3,154.64 L248.3,154.96 L249.3,155.28 L250.3,155.60 L251.3,155.91 L252.3,156.22 L253.3,156.52 L254.3,156.81 L255.3,157.10 L256.3,157.37 L257.3,157.63 L258.3,157.87 L259.3,158.11 L260.3,158.33 L261.3,158.54 L262.3,158.74 L263.3,158.93 L264.3,159.11 L265.3,159.28 L266.3,159.44 L267.3,159.59 L268.3,159.73 L269.3,159.86 L270.3,159.99 L271.3,160.10 L272.3,160.21 L273.3,160.31 L274.3,160.41 L275.3,160.50 L276.3,160.58 L277.3,160.66 L278.3,160.73 L279.3,160.80 L280.3,160.86 L281.3,160.92 L282.3,160.98 L283.3,161.03 L284.3,161.08 L285.3,161.12 L286.3,161.17 L287.3,161.21 L288.3,161.25 L289.3,161.29 L290.3,161.32 L291.3,161.36 L292.3,161.40 L293.3,161.44 L294.3,161.48 L295.3,161.52 L296.3,161.56 L297.3,161.60 L298.3,161.64 L299.3,161.69 L300.3,161.74 L301.3,161.79 L302.3,161.85 L303.3,161.91 L304.3,161.98 L305.3,162.05 L306.3,162.12 L307.3,162.20 L308.3,162.29 L309.3,162.38 L310.3,162.48 L311.3,162.59 L312.3,162.70 L313.3,162.82 L314.3,162.95 L315.3,163.08 L316.3,163.22 L317.3,163.37 L318.3,163.53 L319.3,163.69 L320.3,163.87 L321.3,164.05 L322.3,164.24 L323.3,164.43 L324.3,164.64 L325.3,164.85 L326.3,165.07 L327.3,165.30 L328.3,165.54 L329.3,165.79 L330.3,166.05 L331.3,166.31 L332.3,166.59 L333.3,166.87 L334.3,167.16 L335.3,167.46 L336.3,167.76 L337.3,168.07 L338.3,168.38 L339.3,168.70 L340.3,169.02 L341.3,169.34 L342.3,169.65 L343.3,169.97 L344.3,170.29 L345.3,170.60 L346.3,170.91 L347.3,171.22 L348.3,171.52 L349.3,171.81 L350.3,172.10 L351.3,172.38 L352.3,172.65 L353.3,172.91 L354.3,173.16 L355.3,173.40 L356.3,173.63 L357.3,173.85 L358.3,174.07 L359.3,174.27 L360.3,174.47 L361.3,174.66 L362.3,174.84 L363.3,175.02 L364.3,175.19 L365.3,175.36 L366.3,175.53 L367.3,175.69 L368.3,175.84 L369.3,175.99 L370.3,176.15 L371.3,176.29 L372.3,176.44 L373.3,176.59 L374.3,176.73 L375.3,176.88 L376.3,177.02 L377.3,177.16 L378.3,177.30 L379.3,177.44 L380.3,177.58 L381.3,177.72 L382.3,177.86 L383.3,177.99 L384.3,178.13 L385.3,178.27 L386.3,178.40 L387.3,178.54 L388.3,178.67 L389.3,178.81 L390.3,178.94 L391.3,179.08 L392.3,179.21 L393.3,179.34 L394.3,179.48 L395.3,179.61 L396.3,179.75 L397.3,179.88 L398.3,180.02 L399.3,180.16 L400.3,180.29 L401.3,180.43 L402.3,180.57 L403.3,180.71 L404.3,180.85 L405.3,180.99 L406.3,181.13 L407.3,181.27 L408.3,181.41 L409.3,181.56 L410.3,181.70 L411.3,181.85 L412.3,182.00 L413.3,182.15 L414.3,182.30 L415.3,182.46 L416.3,182.61 L417.3,182.77 L418.3,182.93 L419.3,183.09 L420.3,183.25 L421.3,183.41 L422.3,183.58 L423.3,183.75 L424.3,183.92 L425.3,184.09 L426.3,184.26 L427.3,184.44 L428.3,184.62 L429.3,184.80 L430.3,184.99 L431.3,185.18 L432.3,185.37 L433.3,185.56 L434.3,185.75 L435.3,185.94 L436.3,186.14 L437.3,186.33 L438.3,186.53 L439.3,186.73 L440.3,186.93 L441.3,187.13 L442.3,187.34 L443.3,187.54 L444.3,187.74 L445.3,187.94 L446.3,188.15 L447.3,188.35 L448.3,188.55 L449.3,188.76 L450.3,188.96 L451.3,189.16 L452.3,189.36 L453.3,189.55 L454.3,189.74 L455.3,189.92 L456.3,190.10 L457.3,190.27 L458.3,190.42 L459.3,190.57 L460.3,190.71 L461.3,190.83 L462.3,190.94 L463.3,191.04 L464.3,191.12 L465.3,191.19 L466.3,191.24 L467.3,191.27 L468.3,191.28 L469.3,191.28 L470.3,191.26 L471.3,191.24 L472.3,191.20 L473.3,191.16 L474.3,191.11 L475.3,191.05 L476.3,190.99 L477.3,190.93 L478.3,190.86 L479.3,190.80 L480.3,190.74 L481.3,190.69 L482.3,190.64 L483.3,190.60 L484.3,190.57 L485.3,190.55 L486.3,190.54 L487.3,190.55 L488.3,190.57 L489.3,190.61 L490.3,190.66 L491.3,190.72 L492.3,190.79 L493.3,190.86 L494.3,190.94 L495.3,191.03 L496.3,191.11 L497.3,191.20 L498.3,191.28 L499.3,191.36 L500.3,191.43 L501.3,191.50 L502.3,191.57 L503.3,191.63 L504.3,191.69 L505.3,191.75 L506.3,191.80 L507.3,191.85 L508.3,191.90 L509.3,191.94 L510.3,191.98 L511.3,192.01 L512.3,192.04 L513.3,192.07 L514.3,192.09 L515.3,192.12 L516.3,192.13 L517.3,192.15 L518.3,192.16 L519.3,192.17 L520.3,192.17 L521.3,192.17 L522.3,192.17 L523.3,192.17 L524.3,192.16 L525.3,192.15 L526.3,192.14 L527.3,192.12 L528.3,192.11 L529.3,192.09 L530.3,192.07 L531.3,192.05 L532.3,192.02 L533.3,192.00 L534.3,191.97 L535.3,191.95 L536.3,191.92 L537.3,191.89 L538.3,191.87 L539.3,191.84 L540.3,191.81 L541.3,191.78 L542.3,191.75 L543.3,191.73 L544.3,191.70 L545.3,191.67 L546.3,191.65 L547.3,191.63 L548.3,191.60 L549.3,191.58 L550.3,191.56 L551.3,191.54 L552.3,191.53 L553.3,191.51 L554.3,191.50 L555.3,191.49 L556.3,191.48 L557.3,191.48 L558.3,191.47 L559.3,191.48 L560.3,191.48 L561.3,191.49 L562.3,191.50 L563.3,191.51 L564.3,191.53 L565.3,191.55 L566.3,191.58 L567.3,191.61 L568.3,191.64 L569.3,191.68 L570.3,191.73 L571.3,191.78 L572.3,191.83 L573.3,191.89 L574.3,191.95 L575.3,192.02 L576.3,192.10 L577.3,192.17 L578.3,192.26 L579.3,192.34 L580.3,192.43 L581.3,192.53 L582.3,192.63 L583.3,192.73 L584.3,192.83 L585.3,192.94 L586.3,193.05 L587.3,193.16 L588.3,193.28 L589.3,193.40 L590.3,193.52 L591.3,193.65 L592.3,193.77 L593.3,193.90 L594.3,194.03 L595.3,194.16 L596.3,194.29 L597.3,194.43 L598.3,194.56 L599.3,194.70 L600.3,194.84 L601.3,194.98 L602.3,195.11 L603.3,195.25 L604.3,195.39 L605.3,195.53 L606.3,195.67 L607.3,195.81 L608.3,195.95 L609.3,196.09 L610.3,196.23 L611.3,196.36 L612.3,196.50 L613.3,196.64 L614.3,196.77 L615.3,196.90 L616.3,197.03 L617.3,197.16 L618.3,197.29 L619.3,197.41 L620.3,197.54 L621.3,197.66 L622.3,197.78 L623.3,197.89 L624.3,198.00 L625.3,198.11 L626.3,198.22 L627.3,198.32 L628.3,198.42 L629.3,198.52 L630.3,198.61 L631.3,198.70 L632.3,198.78 L633.3,198.86 L634.3,198.94 L635.3,199.01 L636.3,199.08 L637.3,199.14 L638.3,199.20 L639.3,199.25 L640.3,199.30 L641.3,199.34 L642.3,199.37 L643.3,199.40 L644.3,199.43 L645.3,199.44 L646.3,199.45 L647.3,199.46 L648.3,199.46 L649.3,199.45 L650.3,199.44 L651.3,199.41 L652.3,199.39 L653.3,199.35 L654.3,199.31 L654.4,199.30" fill="none" stroke="#f4f4ee" stroke-width="1.5" stroke-linejoin="round"/>
<path d="M83.3,45.14 L84.3,44.53 L85.3,44.15 L86.3,43.98 L87.3,44.01 L88.3,44.23 L89.3,44.64 L90.3,45.21 L91.3,45.95 L92.3,46.83 L93.3,47.86 L94.3,49.02 L95.3,50.31 L96.3,51.70 L97.3,53.20 L98.3,54.80 L99.3,56.48 L100.3,58.25 L101.3,60.10 L102.3,62.01 L103.3,63.99 L104.3,66.03 L105.3,68.10 L106.3,70.21 L107.3,72.34 L108.3,74.47 L109.3,76.60 L110.3,78.70 L111.3,80.78 L112.3,82.81 L113.3,84.79 L114.3,86.70 L115.3,88.53 L116.3,90.27 L117.3,91.91 L118.3,93.43 L119.3,94.84 L120.3,96.15 L121.3,97.37 L122.3,98.50 L123.3,99.57 L124.3,100.57 L125.3,101.53 L126.3,102.45 L127.3,103.34 L128.3,104.22 L129.3,105.07 L130.3,105.91 L131.3,106.73 L132.3,107.54 L133.3,108.33 L134.3,109.12 L135.3,109.89 L136.3,110.66 L137.3,111.42 L138.3,112.17 L139.3,112.92 L140.3,113.66 L141.3,114.40 L142.3,115.15 L143.3,115.89 L144.3,116.63 L145.3,117.36 L146.3,118.10 L147.3,118.83 L148.3,119.57 L149.3,120.29 L150.3,121.02 L151.3,121.74 L152.3,122.46 L153.3,123.17 L154.3,123.88 L155.3,124.58 L156.3,125.28 L157.3,125.97 L158.3,126.65 L159.3,127.33 L160.3,128.00 L161.3,128.67 L162.3,129.33 L163.3,129.98 L164.3,130.62 L165.3,131.24 L166.3,131.85 L167.3,132.43 L168.3,132.98 L169.3,133.48 L170.3,133.95 L171.3,134.36 L172.3,134.74 L173.3,135.08 L174.3,135.39 L175.3,135.68 L176.3,135.95 L177.3,136.22 L178.3,136.48 L179.3,136.74 L180.3,137.02 L181.3,137.31 L182.3,137.61 L183.3,137.93 L184.3,138.27 L185.3,138.62 L186.3,138.97 L187.3,139.34 L188.3,139.71 L189.3,140.09 L190.3,140.48 L191.3,140.87 L192.3,141.25 L193.3,141.64 L194.3,142.03 L195.3,142.41 L196.3,142.79 L197.3,143.16 L198.3,143.52 L199.3,143.88 L200.3,144.22 L201.3,144.55 L202.3,144.86 L203.3,145.16 L204.3,145.45 L205.3,145.72 L206.3,145.98 L207.3,146.23 L208.3,146.46 L209.3,146.69 L210.3,146.91 L211.3,147.11 L212.3,147.31 L213.3,147.51 L214.3,147.69 L215.3,147.87 L216.3,148.04 L217.3,148.21 L218.3,148.38 L219.3,148.54 L220.3,148.70 L221.3,148.86 L222.3,149.02 L223.3,149.18 L224.3,149.33 L225.3,149.49 L226.3,149.65 L227.3,149.82 L228.3,149.99 L229.3,150.16 L230.3,150.33 L231.3,150.52 L232.3,150.70 L233.3,150.90 L234.3,151.10 L235.3,151.31 L236.3,151.54 L237.3,151.77 L238.3,152.01 L239.3,152.26 L240.3,152.53 L241.3,152.81 L242.3,153.10 L243.3,153.39 L244.3,153.70 L245.3,154.01 L246.3,154.32 L247.3,154.64 L248.3,154.96 L249.3,155.28 L250.3,155.60 L251.3,155.91 L252.3,156.22 L253.3,156.52 L254.3,156.81 L255.3,157.10 L256.3,157.37 L257.3,157.63 L258.3,157.87 L259.3,158.11 L260.3,158.33 L261.3,158.54 L262.3,158.74 L263.3,158.93 L264.3,159.11 L265.3,159.28 L266.3,159.44 L267.3,159.59 L268.3,159.73 L269.3,159.86 L270.3,159.99 L271.3,160.10 L272.3,160.21 L273.3,160.31 L274.3,160.41 L275.3,160.50 L276.3,160.58 L277.3,160.66 L278.3,160.73 L279.3,160.80 L280.3,160.86 L281.3,160.92 L282.3,160.98 L283.3,161.03 L284.3,161.08 L285.3,161.12 L286.3,161.17 L287.3,161.21 L288.3,161.25 L289.3,161.29 L290.3,161.32 L291.3,161.36 L292.3,161.40 L293.3,161.44 L294.3,161.48 L295.3,161.52 L296.3,161.56 L297.3,161.60 L298.3,161.64 L299.3,161.69 L300.3,161.74 L301.3,161.79 L302.3,161.85 L303.3,161.91 L304.3,161.98 L305.3,162.05 L306.3,162.12 L307.3,162.20 L308.3,162.29 L309.3,162.38 L310.3,162.48 L311.3,162.59 L312.3,162.70 L313.3,162.82 L314.3,162.95 L315.3,163.08 L316.3,163.22 L317.3,163.37 L318.3,163.53 L319.3,163.69 L320.3,163.87 L321.3,164.05 L322.3,164.24 L323.3,164.43 L324.3,164.64 L325.3,164.85 L326.3,165.07 L327.3,165.30 L328.3,165.54 L329.3,165.79 L330.3,166.05 L331.3,166.31 L332.3,166.59 L333.3,166.87 L334.3,167.16 L335.3,167.46 L336.3,167.76 L337.3,168.07 L338.3,168.38 L339.3,168.70 L340.3,169.02 L341.3,169.34 L342.3,169.65 L343.3,169.97 L344.3,170.29 L345.3,170.60 L346.3,170.91 L347.3,171.22 L348.3,171.52 L349.3,171.81 L350.3,172.10 L351.3,172.38 L352.3,172.65 L353.3,172.91 L354.3,173.16 L355.3,173.40 L356.3,173.63 L357.3,173.85 L358.3,174.07 L359.3,174.27 L360.3,174.47 L361.3,174.66 L362.3,174.84 L363.3,175.02 L364.3,175.19 L365.3,175.36 L366.3,175.53 L367.3,175.69 L368.3,175.84 L369.3,175.99 L370.3,176.15 L371.3,176.29 L372.3,176.44 L373.3,176.59 L374.3,176.73 L375.3,176.88 L376.3,177.02 L377.3,177.16 L378.3,177.30 L379.3,177.44 L380.3,177.58 L381.3,177.72 L382.3,177.86 L383.3,177.99 L384.3,178.13 L385.3,178.27 L386.3,178.40 L387.3,178.54 L388.3,178.67 L389.3,178.81 L390.3,178.94 L391.3,179.08 L392.3,179.21 L393.3,179.34 L394.3,179.48 L395.3,179.61 L396.3,179.75 L397.3,179.88 L398.3,180.02 L399.3,180.16 L400.3,180.29 L401.3,180.43 L402.3,180.57 L403.3,180.71 L404.3,180.85 L405.3,180.99 L406.3,181.13 L407.3,181.27 L408.3,181.41 L409.3,181.56 L410.3,181.70 L411.3,181.85 L412.3,182.00 L413.3,182.15 L414.3,182.30 L415.3,182.46 L416.3,182.61 L417.3,182.77 L418.3,182.93 L419.3,183.09 L420.3,183.25 L421.3,183.41 L422.3,183.58 L423.3,183.75 L424.3,183.92 L425.3,184.09 L426.3,184.26 L427.3,184.44 L428.3,184.62 L429.3,184.80 L430.3,184.99 L431.3,185.18 L432.3,185.37 L433.3,185.56 L434.3,185.75 L435.3,185.94 L436.3,186.14 L437.3,186.33 L438.3,186.53 L439.3,186.73 L440.3,186.93 L441.3,187.13 L442.3,187.34 L443.3,187.54 L444.3,187.74 L445.3,187.94 L446.3,188.15 L447.3,188.35 L448.3,188.55 L449.3,188.76 L450.3,188.96 L451.3,189.16 L452.3,189.36 L453.3,189.55 L454.3,189.74 L455.3,189.92 L456.3,190.10 L457.3,190.27 L458.3,190.42 L459.3,190.57 L460.3,190.71 L461.3,190.83 L462.3,190.94 L463.3,191.04 L464.3,191.12 L465.3,191.19 L466.3,191.24 L467.3,191.27 L468.3,191.28 L469.3,191.28 L470.3,191.26 L471.3,191.24 L472.3,191.20 L473.3,191.16 L474.3,191.11 L475.3,191.05 L476.3,190.99 L477.3,190.93 L478.3,190.86 L479.3,190.80 L480.3,190.74 L481.3,190.69 L482.3,190.64 L483.3,190.60 L484.3,190.57 L485.3,190.55 L486.3,190.54 L487.3,190.55 L488.3,190.57 L489.3,190.61 L490.3,190.66 L491.3,190.72 L492.3,190.79 L493.3,190.86 L494.3,190.94 L495.3,191.03 L496.3,191.11 L497.3,191.20 L498.3,191.28 L499.3,191.36 L500.3,191.43 L501.3,191.50 L502.3,191.57 L503.3,191.63 L504.3,191.69 L505.3,191.75 L506.3,191.80 L507.3,191.85 L508.3,191.90 L509.3,191.94 L510.3,191.98 L511.3,192.01 L512.3,192.04 L513.3,192.07 L514.3,192.09 L515.3,192.12 L516.3,192.13 L517.3,192.15 L518.3,192.16 L519.3,192.17 L520.3,192.17 L521.3,192.17 L522.3,192.17 L523.3,192.17 L524.3,192.16 L525.3,192.15 L526.3,192.14 L527.3,192.12 L528.3,192.11 L529.3,192.09 L530.3,192.07 L531.3,192.05 L532.3,192.02 L533.3,192.00 L534.3,191.97 L535.3,191.95 L536.3,191.92 L537.3,191.89 L538.3,191.87 L539.3,191.84 L540.3,191.81 L541.3,191.78 L542.3,191.75 L543.3,191.73 L544.3,191.70 L545.3,191.67 L546.3,191.65 L547.3,191.63 L548.3,191.60 L549.3,191.58 L550.3,191.56 L551.3,191.54 L552.3,191.53 L553.3,191.51 L554.3,191.50 L555.3,191.49 L556.3,191.48 L557.3,191.48 L558.3,191.47 L559.3,191.48 L560.3,191.48 L561.3,191.49 L562.3,191.50 L563.3,191.51 L564.3,191.53 L565.3,191.55 L566.3,191.58 L567.3,191.61 L568.3,191.64 L569.3,191.68 L570.3,191.73 L571.3,191.78 L572.3,191.83 L573.3,191.89 L574.3,191.95 L575.3,192.02 L576.3,192.10 L577.3,192.17 L578.3,192.26 L579.3,192.34 L580.3,192.43 L581.3,192.53 L582.3,192.63 L583.3,192.73 L584.3,192.83 L585.3,192.94 L586.3,193.05 L587.3,193.16 L588.3,193.28 L589.3,193.40 L590.3,193.52 L591.3,193.65 L592.3,193.77 L593.3,193.90 L594.3,194.03 L595.3,194.16 L596.3,194.29 L597.3,194.43 L598.3,194.56 L599.3,194.70 L600.3,194.84 L601.3,194.98 L602.3,195.11 L603.3,195.25 L604.3,195.39 L605.3,195.53 L606.3,195.67 L607.3,195.81 L608.3,195.95 L609.3,196.09 L610.3,196.23 L611.3,196.36 L612.3,196.50 L613.3,196.64 L614.3,196.77 L615.3,196.90 L616.3,197.03 L617.3,197.16 L618.3,197.29 L619.3,197.41 L620.3,197.54 L621.3,197.66 L622.3,197.78 L623.3,197.89 L624.3,198.00 L625.3,198.11 L626.3,198.22 L627.3,198.32 L628.3,198.42 L629.3,198.52 L630.3,198.61 L631.3,198.70 L632.3,198.78 L633.3,198.86 L634.3,198.94 L635.3,199.01 L636.3,199.08 L637.3,199.14 L638.3,199.20 L639.3,199.25 L640.3,199.30 L641.3,199.34 L642.3,199.37 L643.3,199.40 L644.3,199.43 L645.3,199.44 L646.3,199.45 L647.3,199.46 L648.3,199.46 L649.3,199.45 L650.3,199.44 L651.3,199.41 L652.3,199.39 L653.3,199.35 L654.3,199.31 L654.4,199.30" fill="none" stroke="#4d8ac2" stroke-width="1.5" stroke-dasharray="3.9 2.0" stroke-linejoin="round"/>
<rect x="55.5" y="32.5" width="628.0" height="189.0" fill="none" stroke="#545454" stroke-width="1"/>
<line x1="52.5" y1="44.06" x2="55.5" y2="44.06" stroke="#545454" stroke-width="1"/>
<line x1="52.5" y1="69.715" x2="55.5" y2="69.715" stroke="#545454" stroke-width="1"/>
<line x1="52.5" y1="95.37" x2="55.5" y2="95.37" stroke="#545454" stroke-width="1"/>
<line x1="52.5" y1="121.025" x2="55.5" y2="121.025" stroke="#545454" stroke-width="1"/>
<line x1="52.5" y1="146.68" x2="55.5" y2="146.68" stroke="#545454" stroke-width="1"/>
<line x1="52.5" y1="172.335" x2="55.5" y2="172.335" stroke="#545454" stroke-width="1"/>
<line x1="52.5" y1="197.99" x2="55.5" y2="197.99" stroke="#545454" stroke-width="1"/>
<line x1="81.45" y1="221.5" x2="81.45" y2="224.5" stroke="#545454" stroke-width="1"/>
<line x1="163.31" y1="221.5" x2="163.31" y2="224.5" stroke="#545454" stroke-width="1"/>
<line x1="256.87" y1="221.5" x2="256.87" y2="224.5" stroke="#545454" stroke-width="1"/>
<line x1="350.42" y1="221.5" x2="350.42" y2="224.5" stroke="#545454" stroke-width="1"/>
<line x1="443.98" y1="221.5" x2="443.98" y2="224.5" stroke="#545454" stroke-width="1"/>
<line x1="654.48" y1="221.5" x2="654.48" y2="224.5" stroke="#545454" stroke-width="1"/>
<text x="48.8" y="46.96" text-anchor="end" class="tk">−5</text>
<text x="48.8" y="72.61500000000001" text-anchor="end" class="tk">−10</text>
<text x="48.8" y="98.27000000000001" text-anchor="end" class="tk">−15</text>
<text x="48.8" y="123.92500000000001" text-anchor="end" class="tk">−20</text>
<text x="48.8" y="149.58" text-anchor="end" class="tk">−25</text>
<text x="48.8" y="175.235" text-anchor="end" class="tk">−30</text>
<text x="48.8" y="200.89000000000001" text-anchor="end" class="tk">−35</text>
<text x="81.45" y="232.9" text-anchor="middle" class="tk">0.5</text>
<text x="163.31" y="232.9" text-anchor="middle" class="tk">4.0</text>
<text x="256.87" y="232.9" text-anchor="middle" class="tk">8.0</text>
<text x="350.42" y="232.9" text-anchor="middle" class="tk">12.0</text>
<text x="443.98" y="232.9" text-anchor="middle" class="tk">16.0</text>
<text x="654.48" y="232.9" text-anchor="middle" class="tk">25.0</text>
<text x="122.5" y="231.1" text-anchor="middle" class="gk">δ</text>
<text x="210.1" y="231.1" text-anchor="middle" class="gk">θ</text>
<text x="303.6" y="231.1" text-anchor="middle" class="gk">α</text>
<text x="397.1" y="231.1" text-anchor="middle" class="gk">σ</text>
<text x="549.1" y="231.1" text-anchor="middle" class="gk">β</text>
<text x="369" y="243.1" text-anchor="middle" class="lb" textLength="56.5" lengthAdjust="spacingAndGlyphs">Frequency [Hz]</text>
<text transform="translate(29.2,127.0) rotate(-90)" x="0" y="0" text-anchor="middle" class="lb" textLength="65.5" lengthAdjust="spacingAndGlyphs">Δ Magnitude [dB]</text>

<g>
<rect x="633" y="37" width="46.2" height="34.8" rx="1.5" fill="#8a8a8a" fill-opacity="0.93"/>
<line x1="634.2" y1="42.5" x2="650.8" y2="42.5" stroke="#fafaf0" stroke-width="1.5"/>
<line x1="634.2" y1="53.9" x2="650.8" y2="53.9" stroke="#4682bd" stroke-width="1.9"/>
<line x1="635" y1="65.4" x2="650.1" y2="65.4" stroke="#f6f6f0" stroke-width="1.5"/>
<line x1="641" y1="65.4" x2="645.1" y2="65.4" stroke="#4d8ac2" stroke-width="1.5"/>
<text x="656.6" y="45.1" class="lg">W</text>
<text x="656.6" y="56.3" class="lg">N3</text>
<text x="656.6" y="67.3" class="lg" textLength="19.6" lengthAdjust="spacingAndGlyphs">W-N3</text>
</g>
<rect x="55.5" y="259.5" width="628.0" height="188.95" fill="#dcdcdc"/>
<line x1="81.45" y1="259.5" x2="81.45" y2="448.45" stroke="#c3c3c3" stroke-width="1"/>
<line x1="163.31" y1="259.5" x2="163.31" y2="448.45" stroke="#c3c3c3" stroke-width="1"/>
<line x1="256.87" y1="259.5" x2="256.87" y2="448.45" stroke="#c3c3c3" stroke-width="1"/>
<line x1="350.42" y1="259.5" x2="350.42" y2="448.45" stroke="#c3c3c3" stroke-width="1"/>
<line x1="443.98" y1="259.5" x2="443.98" y2="448.45" stroke="#c3c3c3" stroke-width="1"/>
<line x1="654.48" y1="259.5" x2="654.48" y2="448.45" stroke="#c3c3c3" stroke-width="1"/>
<line x1="55.5" y1="279.96" x2="683.5" y2="279.96" stroke="#c3c3c3" stroke-width="1"/>
<line x1="55.5" y1="310.155" x2="683.5" y2="310.155" stroke="#c3c3c3" stroke-width="1"/>
<line x1="55.5" y1="340.34999999999997" x2="683.5" y2="340.34999999999997" stroke="#c3c3c3" stroke-width="1"/>
<line x1="55.5" y1="370.54499999999996" x2="683.5" y2="370.54499999999996" stroke="#c3c3c3" stroke-width="1"/>
<line x1="55.5" y1="400.74" x2="683.5" y2="400.74" stroke="#c3c3c3" stroke-width="1"/>
<line x1="55.5" y1="430.93499999999995" x2="683.5" y2="430.93499999999995" stroke="#c3c3c3" stroke-width="1"/>
<path d="M83.1,388.53 L84.1,389.39 L85.1,390.02 L86.1,390.45 L87.1,390.71 L88.1,390.83 L89.1,390.84 L90.1,390.75 L91.1,390.61 L92.1,390.43 L93.1,390.25 L94.1,390.09 L95.1,389.98 L96.1,389.95 L97.1,390.02 L98.1,390.22 L99.1,390.58 L100.1,391.12 L101.1,391.88 L102.1,392.85 L103.1,393.95 L104.1,395.11 L105.1,396.23 L106.1,397.23 L107.1,398.05 L108.1,398.70 L109.1,399.20 L110.1,399.56 L111.1,399.82 L112.1,399.98 L113.1,400.07 L114.1,400.11 L115.1,400.12 L116.1,400.12 L117.1,400.13 L118.1,400.14 L119.1,400.16 L120.1,400.18 L121.1,400.20 L122.1,400.23 L123.1,400.25 L124.1,400.26 L125.1,400.27 L126.1,400.27 L127.1,400.26 L128.1,400.24 L129.1,400.20 L130.1,400.15 L131.1,400.08 L132.1,399.98 L133.1,399.87 L134.1,399.73 L135.1,399.56 L136.1,399.37 L137.1,399.17 L138.1,398.96 L139.1,398.77 L140.1,398.61 L141.1,398.49 L142.1,398.42 L143.1,398.43 L144.1,398.51 L145.1,398.68 L146.1,398.92 L147.1,399.19 L148.1,399.50 L149.1,399.81 L150.1,400.11 L151.1,400.37 L152.1,400.57 L153.1,400.70 L154.1,400.74 L155.1,400.67 L156.1,400.51 L157.1,400.30 L158.1,400.05 L159.1,399.80 L160.1,399.56 L161.1,399.38 L162.1,399.26 L163.1,399.24 L164.1,399.34 L165.1,399.57 L166.1,399.90 L167.1,400.32 L168.1,400.82 L169.1,401.38 L170.1,401.98 L171.1,402.61 L172.1,403.25 L173.1,403.88 L174.1,404.50 L175.1,405.07 L176.1,405.59 L177.1,406.04 L178.1,406.40 L179.1,406.66 L180.1,406.81 L181.1,406.87 L182.1,406.85 L183.1,406.76 L184.1,406.63 L185.1,406.47 L186.1,406.30 L187.1,406.12 L188.1,405.95 L189.1,405.78 L190.1,405.62 L191.1,405.47 L192.1,405.33 L193.1,405.21 L194.1,405.11 L195.1,405.04 L196.1,404.98 L197.1,404.95 L198.1,404.95 L199.1,404.99 L200.1,405.06 L201.1,405.16 L202.1,405.30 L203.1,405.47 L204.1,405.67 L205.1,405.88 L206.1,406.09 L207.1,406.31 L208.1,406.53 L209.1,406.73 L210.1,406.91 L211.1,407.07 L212.1,407.19 L213.1,407.28 L214.1,407.33 L215.1,407.36 L216.1,407.39 L217.1,407.41 L218.1,407.46 L219.1,407.54 L220.1,407.66 L221.1,407.84 L222.1,408.08 L223.1,408.40 L224.1,408.80 L225.1,409.24 L226.1,409.68 L227.1,410.11 L228.1,410.49 L229.1,410.79 L230.1,410.98 L231.1,411.03 L232.1,410.98 L233.1,410.83 L234.1,410.60 L235.1,410.31 L236.1,409.99 L237.1,409.66 L238.1,409.33 L239.1,409.00 L240.1,408.69 L241.1,408.37 L242.1,408.06 L243.1,407.74 L244.1,407.42 L245.1,407.09 L246.1,406.75 L247.1,406.40 L248.1,406.02 L249.1,405.63 L250.1,405.22 L251.1,404.78 L252.1,404.31 L253.1,403.82 L254.1,403.30 L255.1,402.76 L256.1,402.22 L257.1,401.67 L258.1,401.14 L259.1,400.62 L260.1,400.13 L261.1,399.68 L262.1,399.25 L263.1,398.85 L264.1,398.49 L265.1,398.15 L266.1,397.84 L267.1,397.56 L268.1,397.30 L269.1,397.07 L270.1,396.84 L271.1,396.61 L272.1,396.37 L273.1,396.10 L274.1,395.81 L275.1,395.48 L276.1,395.11 L277.1,394.69 L278.1,394.24 L279.1,393.76 L280.1,393.25 L281.1,392.71 L282.1,392.15 L283.1,391.56 L284.1,390.96 L285.1,390.34 L286.1,389.71 L287.1,389.08 L288.1,388.43 L289.1,387.78 L290.1,387.14 L291.1,386.49 L292.1,385.85 L293.1,385.21 L294.1,384.58 L295.1,383.95 L296.1,383.32 L297.1,382.71 L298.1,382.10 L299.1,381.50 L300.1,380.92 L301.1,380.34 L302.1,379.78 L303.1,379.23 L304.1,378.69 L305.1,378.17 L306.1,377.69 L307.1,377.26 L308.1,376.91 L309.1,376.65 L310.1,376.52 L311.1,376.52 L312.1,376.65 L313.1,376.89 L314.1,377.22 L315.1,377.64 L316.1,378.11 L317.1,378.64 L318.1,379.20 L319.1,379.78 L320.1,380.36 L321.1,380.91 L322.1,381.40 L323.1,381.81 L324.1,382.11 L325.1,382.26 L326.1,382.25 L327.1,382.11 L328.1,381.85 L329.1,381.50 L330.1,381.09 L331.1,380.64 L332.1,380.18 L333.1,379.73 L334.1,379.32 L335.1,378.98 L336.1,378.72 L337.1,378.58 L338.1,378.55 L339.1,378.62 L340.1,378.75 L341.1,378.91 L342.1,379.09 L343.1,379.24 L344.1,379.34 L345.1,379.37 L346.1,379.29 L347.1,379.09 L348.1,378.78 L349.1,378.37 L350.1,377.88 L351.1,377.32 L352.1,376.71 L353.1,376.07 L354.1,375.41 L355.1,374.74 L356.1,374.08 L357.1,373.46 L358.1,372.87 L359.1,372.33 L360.1,371.84 L361.1,371.39 L362.1,370.99 L363.1,370.63 L364.1,370.30 L365.1,370.02 L366.1,369.76 L367.1,369.54 L368.1,369.35 L369.1,369.18 L370.1,369.05 L371.1,368.94 L372.1,368.86 L373.1,368.82 L374.1,368.82 L375.1,368.86 L376.1,368.95 L377.1,369.09 L378.1,369.28 L379.1,369.54 L380.1,369.85 L381.1,370.24 L382.1,370.68 L383.1,371.17 L384.1,371.67 L385.1,372.16 L386.1,372.61 L387.1,373.01 L388.1,373.32 L389.1,373.53 L390.1,373.60 L391.1,373.52 L392.1,373.25 L393.1,372.77 L394.1,372.10 L395.1,371.24 L396.1,370.23 L397.1,369.10 L398.1,367.88 L399.1,366.59 L400.1,365.25 L401.1,363.91 L402.1,362.58 L403.1,361.30 L404.1,360.09 L405.1,358.97 L406.1,357.95 L407.1,357.03 L408.1,356.18 L409.1,355.41 L410.1,354.71 L411.1,354.06 L412.1,353.46 L413.1,352.91 L414.1,352.39 L415.1,351.89 L416.1,351.41 L417.1,350.95 L418.1,350.48 L419.1,350.01 L420.1,349.54 L421.1,349.07 L422.1,348.61 L423.1,348.15 L424.1,347.72 L425.1,347.30 L426.1,346.91 L427.1,346.56 L428.1,346.23 L429.1,345.95 L430.1,345.71 L431.1,345.52 L432.1,345.39 L433.1,345.31 L434.1,345.25 L435.1,345.17 L436.1,345.04 L437.1,344.82 L438.1,344.46 L439.1,343.92 L440.1,343.18 L441.1,342.27 L442.1,341.23 L443.1,340.12 L444.1,338.98 L445.1,337.87 L446.1,336.83 L447.1,335.85 L448.1,334.92 L449.1,334.06 L450.1,333.25 L451.1,332.48 L452.1,331.75 L453.1,331.06 L454.1,330.40 L455.1,329.77 L456.1,329.16 L457.1,328.56 L458.1,327.98 L459.1,327.40 L460.1,326.83 L461.1,326.26 L462.1,325.67 L463.1,325.08 L464.1,324.48 L465.1,323.88 L466.1,323.30 L467.1,322.75 L468.1,322.24 L469.1,321.78 L470.1,321.38 L471.1,321.06 L472.1,320.82 L473.1,320.66 L474.1,320.57 L475.1,320.53 L476.1,320.53 L477.1,320.56 L478.1,320.60 L479.1,320.65 L480.1,320.69 L481.1,320.71 L482.1,320.70 L483.1,320.64 L484.1,320.52 L485.1,320.32 L486.1,320.05 L487.1,319.68 L488.1,319.19 L489.1,318.59 L490.1,317.86 L491.1,317.04 L492.1,316.13 L493.1,315.18 L494.1,314.19 L495.1,313.20 L496.1,312.22 L497.1,311.28 L498.1,310.37 L499.1,309.49 L500.1,308.64 L501.1,307.79 L502.1,306.96 L503.1,306.13 L504.1,305.29 L505.1,304.47 L506.1,303.68 L507.1,302.94 L508.1,302.28 L509.1,301.71 L510.1,301.25 L511.1,300.94 L512.1,300.76 L513.1,300.69 L514.1,300.71 L515.1,300.78 L516.1,300.88 L517.1,300.98 L518.1,301.05 L519.1,301.06 L520.1,300.99 L521.1,300.83 L522.1,300.59 L523.1,300.30 L524.1,299.96 L525.1,299.59 L526.1,299.21 L527.1,298.82 L528.1,298.45 L529.1,298.11 L530.1,297.81 L531.1,297.57 L532.1,297.40 L533.1,297.32 L534.1,297.32 L535.1,297.39 L536.1,297.50 L537.1,297.65 L538.1,297.80 L539.1,297.95 L540.1,298.08 L541.1,298.17 L542.1,298.23 L543.1,298.28 L544.1,298.33 L545.1,298.40 L546.1,298.50 L547.1,298.64 L548.1,298.84 L549.1,299.12 L550.1,299.47 L551.1,299.87 L552.1,300.31 L553.1,300.76 L554.1,301.19 L555.1,301.60 L556.1,301.95 L557.1,302.22 L558.1,302.40 L559.1,302.48 L560.1,302.48 L561.1,302.39 L562.1,302.25 L563.1,302.05 L564.1,301.82 L565.1,301.56 L566.1,301.28 L567.1,301.00 L568.1,300.72 L569.1,300.44 L570.1,300.17 L571.1,299.90 L572.1,299.64 L573.1,299.39 L574.1,299.16 L575.1,298.93 L576.1,298.72 L577.1,298.51 L578.1,298.26 L579.1,297.98 L580.1,297.63 L581.1,297.20 L582.1,296.67 L583.1,296.03 L584.1,295.28 L585.1,294.45 L586.1,293.54 L587.1,292.57 L588.1,291.55 L589.1,290.50 L590.1,289.43 L591.1,288.34 L592.1,287.23 L593.1,286.12 L594.1,285.01 L595.1,283.89 L596.1,282.78 L597.1,281.67 L598.1,280.58 L599.1,279.50 L600.1,278.45 L601.1,277.41 L602.1,276.41 L603.1,275.44 L604.1,274.50 L605.1,273.60 L606.1,272.75 L607.1,271.95 L608.1,271.19 L609.1,270.50 L610.1,269.86 L611.1,269.29 L612.1,268.79 L613.1,268.36 L614.1,268.01 L615.1,267.74 L616.1,267.55 L617.1,267.46 L618.1,267.45 L619.1,267.53 L620.1,267.70 L621.1,267.96 L622.1,268.29 L623.1,268.69 L624.1,269.17 L625.1,269.72 L626.1,270.33 L627.1,271.01 L628.1,271.74 L629.1,272.52 L630.1,273.36 L631.1,274.25 L632.1,275.17 L633.1,276.14 L634.1,277.15 L635.1,278.19 L636.1,279.25 L637.1,280.31 L638.1,281.35 L639.1,282.35 L640.1,283.28 L641.1,284.14 L642.1,284.88 L643.1,285.52 L644.1,286.04 L645.1,286.46 L646.1,286.76 L647.1,286.96 L648.1,287.06 L649.1,287.06 L650.1,286.99 L651.1,286.88 L652.1,286.75 L653.1,286.64 L654.1,286.57 L654.5,286.56" fill="none" stroke="#85b5da" stroke-width="1" stroke-dasharray="1.2 0.8"/>
<path d="M83.1,394.17 L84.1,394.61 L85.1,395.01 L86.1,395.36 L87.1,395.68 L88.1,395.98 L89.1,396.25 L90.1,396.50 L91.1,396.75 L92.1,396.99 L93.1,397.23 L94.1,397.48 L95.1,397.74 L96.1,398.03 L97.1,398.33 L98.1,398.67 L99.1,399.04 L100.1,399.46 L101.1,399.93 L102.1,400.45 L103.1,401.03 L104.1,401.67 L105.1,402.39 L106.1,403.16 L107.1,403.94 L108.1,404.68 L109.1,405.34 L110.1,405.85 L111.1,406.19 L112.1,406.31 L113.1,406.27 L114.1,406.13 L115.1,405.95 L116.1,405.78 L117.1,405.68 L118.1,405.64 L119.1,405.67 L120.1,405.75 L121.1,405.87 L122.1,406.03 L123.1,406.21 L124.1,406.42 L125.1,406.64 L126.1,406.86 L127.1,407.08 L128.1,407.29 L129.1,407.49 L130.1,407.65 L131.1,407.78 L132.1,407.87 L133.1,407.90 L134.1,407.88 L135.1,407.79 L136.1,407.64 L137.1,407.43 L138.1,407.19 L139.1,406.94 L140.1,406.69 L141.1,406.48 L142.1,406.31 L143.1,406.21 L144.1,406.19 L145.1,406.27 L146.1,406.43 L147.1,406.64 L148.1,406.88 L149.1,407.14 L150.1,407.40 L151.1,407.63 L152.1,407.81 L153.1,407.94 L154.1,407.97 L155.1,407.92 L156.1,407.78 L157.1,407.59 L158.1,407.37 L159.1,407.13 L160.1,406.90 L161.1,406.70 L162.1,406.55 L163.1,406.47 L164.1,406.49 L165.1,406.61 L166.1,406.81 L167.1,407.09 L168.1,407.44 L169.1,407.84 L170.1,408.30 L171.1,408.79 L172.1,409.31 L173.1,409.85 L174.1,410.40 L175.1,410.95 L176.1,411.49 L177.1,412.01 L178.1,412.50 L179.1,412.95 L180.1,413.35 L181.1,413.69 L182.1,413.96 L183.1,414.15 L184.1,414.25 L185.1,414.25 L186.1,414.15 L187.1,413.94 L188.1,413.63 L189.1,413.28 L190.1,412.91 L191.1,412.54 L192.1,412.22 L193.1,411.98 L194.1,411.84 L195.1,411.81 L196.1,411.87 L197.1,411.99 L198.1,412.16 L199.1,412.35 L200.1,412.55 L201.1,412.74 L202.1,412.91 L203.1,413.06 L204.1,413.19 L205.1,413.31 L206.1,413.41 L207.1,413.50 L208.1,413.59 L209.1,413.67 L210.1,413.74 L211.1,413.82 L212.1,413.90 L213.1,413.98 L214.1,414.07 L215.1,414.16 L216.1,414.27 L217.1,414.40 L218.1,414.54 L219.1,414.70 L220.1,414.88 L221.1,415.08 L222.1,415.32 L223.1,415.58 L224.1,415.86 L225.1,416.15 L226.1,416.44 L227.1,416.71 L228.1,416.95 L229.1,417.14 L230.1,417.27 L231.1,417.33 L232.1,417.33 L233.1,417.27 L234.1,417.15 L235.1,416.98 L236.1,416.76 L237.1,416.51 L238.1,416.22 L239.1,415.90 L240.1,415.55 L241.1,415.18 L242.1,414.79 L243.1,414.37 L244.1,413.94 L245.1,413.50 L246.1,413.04 L247.1,412.58 L248.1,412.11 L249.1,411.64 L250.1,411.16 L251.1,410.69 L252.1,410.23 L253.1,409.77 L254.1,409.33 L255.1,408.89 L256.1,408.48 L257.1,408.08 L258.1,407.71 L259.1,407.36 L260.1,407.03 L261.1,406.74 L262.1,406.46 L263.1,406.21 L264.1,405.97 L265.1,405.75 L266.1,405.53 L267.1,405.31 L268.1,405.10 L269.1,404.88 L270.1,404.66 L271.1,404.42 L272.1,404.17 L273.1,403.89 L274.1,403.60 L275.1,403.27 L276.1,402.92 L277.1,402.54 L278.1,402.14 L279.1,401.71 L280.1,401.25 L281.1,400.78 L282.1,400.28 L283.1,399.76 L284.1,399.23 L285.1,398.67 L286.1,398.10 L287.1,397.51 L288.1,396.91 L289.1,396.29 L290.1,395.67 L291.1,395.03 L292.1,394.38 L293.1,393.72 L294.1,393.05 L295.1,392.38 L296.1,391.70 L297.1,391.02 L298.1,390.33 L299.1,389.66 L300.1,389.00 L301.1,388.37 L302.1,387.77 L303.1,387.22 L304.1,386.72 L305.1,386.29 L306.1,385.93 L307.1,385.65 L308.1,385.46 L309.1,385.38 L310.1,385.40 L311.1,385.54 L312.1,385.78 L313.1,386.11 L314.1,386.53 L315.1,387.01 L316.1,387.54 L317.1,388.11 L318.1,388.71 L319.1,389.32 L320.1,389.94 L321.1,390.54 L322.1,391.11 L323.1,391.64 L324.1,392.13 L325.1,392.54 L326.1,392.89 L327.1,393.16 L328.1,393.36 L329.1,393.50 L330.1,393.58 L331.1,393.62 L332.1,393.60 L333.1,393.54 L334.1,393.44 L335.1,393.31 L336.1,393.15 L337.1,392.97 L338.1,392.77 L339.1,392.55 L340.1,392.31 L341.1,392.06 L342.1,391.79 L343.1,391.51 L344.1,391.21 L345.1,390.91 L346.1,390.59 L347.1,390.26 L348.1,389.93 L349.1,389.59 L350.1,389.24 L351.1,388.89 L352.1,388.53 L353.1,388.17 L354.1,387.81 L355.1,387.45 L356.1,387.10 L357.1,386.74 L358.1,386.39 L359.1,386.04 L360.1,385.70 L361.1,385.37 L362.1,385.04 L363.1,384.73 L364.1,384.44 L365.1,384.16 L366.1,383.90 L367.1,383.66 L368.1,383.44 L369.1,383.26 L370.1,383.10 L371.1,382.97 L372.1,382.88 L373.1,382.82 L374.1,382.81 L375.1,382.83 L376.1,382.90 L377.1,383.02 L378.1,383.19 L379.1,383.40 L380.1,383.67 L381.1,384.00 L382.1,384.39 L383.1,384.83 L384.1,385.34 L385.1,385.89 L386.1,386.45 L387.1,386.98 L388.1,387.47 L389.1,387.88 L390.1,388.17 L391.1,388.32 L392.1,388.30 L393.1,388.09 L394.1,387.66 L395.1,387.07 L396.1,386.31 L397.1,385.44 L398.1,384.47 L399.1,383.42 L400.1,382.33 L401.1,381.22 L402.1,380.11 L403.1,379.04 L404.1,378.03 L405.1,377.10 L406.1,376.25 L407.1,375.48 L408.1,374.78 L409.1,374.13 L410.1,373.54 L411.1,372.99 L412.1,372.47 L413.1,371.98 L414.1,371.51 L415.1,371.05 L416.1,370.58 L417.1,370.11 L418.1,369.62 L419.1,369.11 L420.1,368.59 L421.1,368.05 L422.1,367.51 L423.1,366.98 L424.1,366.47 L425.1,365.97 L426.1,365.51 L427.1,365.09 L428.1,364.71 L429.1,364.39 L430.1,364.14 L431.1,363.96 L432.1,363.85 L433.1,363.83 L434.1,363.87 L435.1,363.93 L436.1,363.99 L437.1,363.99 L438.1,363.92 L439.1,363.73 L440.1,363.39 L441.1,362.88 L442.1,362.14 L443.1,361.20 L444.1,360.10 L445.1,358.90 L446.1,357.64 L447.1,356.39 L448.1,355.18 L449.1,354.09 L450.1,353.15 L451.1,352.40 L452.1,351.82 L453.1,351.37 L454.1,351.04 L455.1,350.78 L456.1,350.56 L457.1,350.35 L458.1,350.13 L459.1,349.90 L460.1,349.66 L461.1,349.41 L462.1,349.15 L463.1,348.89 L464.1,348.62 L465.1,348.36 L466.1,348.10 L467.1,347.85 L468.1,347.61 L469.1,347.38 L470.1,347.16 L471.1,346.96 L472.1,346.77 L473.1,346.61 L474.1,346.47 L475.1,346.36 L476.1,346.27 L477.1,346.20 L478.1,346.16 L479.1,346.12 L480.1,346.11 L481.1,346.10 L482.1,346.11 L483.1,346.12 L484.1,346.13 L485.1,346.12 L486.1,346.09 L487.1,346.00 L488.1,345.84 L489.1,345.59 L490.1,345.23 L491.1,344.76 L492.1,344.17 L493.1,343.48 L494.1,342.72 L495.1,341.90 L496.1,341.05 L497.1,340.17 L498.1,339.28 L499.1,338.41 L500.1,337.55 L501.1,336.72 L502.1,335.91 L503.1,335.13 L504.1,334.39 L505.1,333.69 L506.1,333.04 L507.1,332.45 L508.1,331.92 L509.1,331.45 L510.1,331.05 L511.1,330.73 L512.1,330.50 L513.1,330.35 L514.1,330.29 L515.1,330.32 L516.1,330.38 L517.1,330.46 L518.1,330.51 L519.1,330.50 L520.1,330.40 L521.1,330.20 L522.1,329.91 L523.1,329.56 L524.1,329.17 L525.1,328.74 L526.1,328.30 L527.1,327.86 L528.1,327.44 L529.1,327.06 L530.1,326.74 L531.1,326.49 L532.1,326.33 L533.1,326.27 L534.1,326.32 L535.1,326.44 L536.1,326.62 L537.1,326.82 L538.1,327.02 L539.1,327.20 L540.1,327.33 L541.1,327.39 L542.1,327.40 L543.1,327.38 L544.1,327.34 L545.1,327.30 L546.1,327.27 L547.1,327.29 L548.1,327.36 L549.1,327.50 L550.1,327.72 L551.1,328.00 L552.1,328.32 L553.1,328.67 L554.1,329.02 L555.1,329.36 L556.1,329.67 L557.1,329.93 L558.1,330.12 L559.1,330.25 L560.1,330.31 L561.1,330.32 L562.1,330.28 L563.1,330.21 L564.1,330.12 L565.1,330.01 L566.1,329.90 L567.1,329.78 L568.1,329.67 L569.1,329.55 L570.1,329.42 L571.1,329.28 L572.1,329.11 L573.1,328.93 L574.1,328.72 L575.1,328.47 L576.1,328.19 L577.1,327.86 L578.1,327.49 L579.1,327.07 L580.1,326.59 L581.1,326.05 L582.1,325.44 L583.1,324.76 L584.1,324.01 L585.1,323.19 L586.1,322.30 L587.1,321.37 L588.1,320.40 L589.1,319.41 L590.1,318.41 L591.1,317.41 L592.1,316.44 L593.1,315.49 L594.1,314.58 L595.1,313.70 L596.1,312.85 L597.1,312.02 L598.1,311.23 L599.1,310.45 L600.1,309.70 L601.1,308.96 L602.1,308.24 L603.1,307.53 L604.1,306.82 L605.1,306.12 L606.1,305.41 L607.1,304.69 L608.1,303.96 L609.1,303.25 L610.1,302.58 L611.1,301.95 L612.1,301.40 L613.1,300.93 L614.1,300.56 L615.1,300.32 L616.1,300.21 L617.1,300.24 L618.1,300.38 L619.1,300.61 L620.1,300.94 L621.1,301.32 L622.1,301.76 L623.1,302.23 L624.1,302.72 L625.1,303.22 L626.1,303.73 L627.1,304.25 L628.1,304.80 L629.1,305.39 L630.1,306.01 L631.1,306.67 L632.1,307.39 L633.1,308.17 L634.1,309.02 L635.1,309.93 L636.1,310.91 L637.1,311.91 L638.1,312.89 L639.1,313.84 L640.1,314.70 L641.1,315.45 L642.1,316.05 L643.1,316.50 L644.1,316.82 L645.1,317.02 L646.1,317.13 L647.1,317.16 L648.1,317.13 L649.1,317.07 L650.1,316.99 L651.1,316.91 L652.1,316.85 L653.1,316.83 L654.1,316.86 L654.7,316.92" fill="none" stroke="#85b5da" stroke-width="1" stroke-dasharray="1.2 0.8"/>
<path d="M83.0,344.40 L87.7,345.20 L92.2,345.60 L95.0,344.70 L98.4,342.50 L102.0,341.90 L106.4,341.70 L107.3,340.40 L116.2,324.30 L120.4,331.10 L124.7,335.80 L128.9,340.00 L128.9,339.86 L129.9,341.01 L130.9,342.10 L131.9,343.10 L132.9,344.04 L133.9,344.91 L134.9,345.71 L135.9,346.45 L136.9,347.14 L137.9,347.76 L138.9,348.33 L139.9,348.84 L140.9,349.30 L141.9,349.72 L142.9,350.09 L143.9,350.42 L144.9,350.71 L145.9,350.96 L146.9,351.18 L147.9,351.36 L148.9,351.51 L149.9,351.64 L150.9,351.74 L151.9,351.82 L152.9,351.88 L153.9,351.92 L154.9,351.94 L155.9,351.96 L156.9,351.96 L157.9,351.96 L158.9,351.95 L159.9,351.94 L160.9,351.93 L161.9,351.91 L162.9,351.90 L163.9,351.88 L164.9,351.86 L165.9,351.83 L166.9,351.80 L167.9,351.76 L168.9,351.71 L169.9,351.63 L170.9,351.51 L171.9,351.34 L172.9,351.10 L173.9,350.79 L174.9,350.39 L175.9,349.89 L176.9,349.31 L177.9,348.65 L178.9,347.93 L179.9,347.15 L180.9,346.32 L181.9,345.44 L182.9,344.54 L183.9,343.62 L184.9,342.69 L185.9,341.75 L186.9,340.82 L187.9,339.91 L188.9,339.02 L189.9,338.17 L190.9,337.36 L191.9,336.60 L192.9,335.89 L193.9,335.25 L194.9,334.67 L195.9,334.16 L196.9,333.74 L197.9,333.40 L198.9,333.16 L199.9,333.01 L200.9,332.97 L201.9,333.04 L202.9,333.22 L203.9,333.48 L204.9,333.83 L205.9,334.26 L206.9,334.75 L207.9,335.29 L208.9,335.89 L209.9,336.51 L210.9,337.17 L211.9,337.84 L212.9,338.53 L213.9,339.21 L214.9,339.88 L215.9,340.54 L216.9,341.17 L217.9,341.79 L218.9,342.37 L219.9,342.91 L220.9,343.42 L221.9,343.89 L222.9,344.30 L223.9,344.66 L224.9,344.96 L225.9,345.20 L226.9,345.38 L227.9,345.48 L228.9,345.50 L229.9,345.44 L230.9,345.31 L231.9,345.11 L232.9,344.84 L233.9,344.52 L234.9,344.14 L235.9,343.71 L236.9,343.23 L237.9,342.71 L238.9,342.16 L239.9,341.57 L240.9,340.96 L241.9,340.33 L242.9,339.68 L243.9,339.02 L244.9,338.35 L245.9,337.68 L246.9,337.02 L247.9,336.36 L248.9,335.72 L249.9,335.10 L250.9,334.51 L251.9,333.95 L252.9,333.43 L253.9,332.96 L254.9,332.53 L255.9,332.15 L256.9,331.83 L257.9,331.54 L258.9,331.30 L259.9,331.08 L260.9,330.88 L261.9,330.69 L262.9,330.51 L263.9,330.33 L264.9,330.15 L265.9,329.95 L266.9,329.73 L267.9,329.48 L268.9,329.19 L269.9,328.87 L270.9,328.50 L271.9,328.09 L272.9,327.65 L273.9,327.18 L274.9,326.70 L275.9,326.20 L276.9,325.70 L277.9,325.20 L278.9,324.71 L279.9,324.23 L280.9,323.78 L281.9,323.35 L282.9,322.95 L283.9,322.60 L284.9,322.29 L285.9,322.03 L286.9,321.82 L287.9,321.65 L288.9,321.52 L289.9,321.42 L290.9,321.36 L291.9,321.34 L292.9,321.34 L293.9,321.37 L294.9,321.43 L295.9,321.51 L296.9,321.61 L297.9,321.73 L298.9,321.86 L299.9,322.00 L300.9,322.16 L301.9,322.32 L302.9,322.48 L303.9,322.64 L304.9,322.80 L305.9,322.94 L306.9,323.06 L307.9,323.17 L308.9,323.25 L309.9,323.30 L310.9,323.32 L311.9,323.30 L312.9,323.24 L313.9,323.13 L314.9,322.98 L315.9,322.78 L316.9,322.55 L317.9,322.28 L318.9,321.99 L319.9,321.68 L320.9,321.35 L321.9,321.01 L322.9,320.67 L323.9,320.32 L324.9,319.97 L325.9,319.64 L326.9,319.31 L327.9,319.01 L328.9,318.73 L329.9,318.47 L330.9,318.24 L331.9,318.03 L332.9,317.85 L333.9,317.70 L334.9,317.58 L335.9,317.48 L336.9,317.41 L337.9,317.38 L338.9,317.37 L339.9,317.39 L340.9,317.44 L341.9,317.53 L342.9,317.65 L343.9,317.80 L344.9,317.98 L345.9,318.18 L346.9,318.41 L347.9,318.65 L348.9,318.91 L349.9,319.19 L350.9,319.47 L351.9,319.75 L352.9,320.04 L353.9,320.33 L354.9,320.61 L355.9,320.89 L356.9,321.15 L357.9,321.40 L358.9,321.63 L359.9,321.84 L360.9,322.03 L361.9,322.21 L362.9,322.36 L363.9,322.49 L364.9,322.61 L365.9,322.71 L366.9,322.79 L367.9,322.86 L368.9,322.91 L369.9,322.94 L370.9,322.96 L371.9,322.97 L372.9,322.96 L373.9,322.94 L374.9,322.91 L375.9,322.86 L376.9,322.81 L377.9,322.74 L378.9,322.67 L379.9,322.58 L380.9,322.49 L381.9,322.39 L382.9,322.28 L383.9,322.16 L384.9,322.03 L385.9,321.90 L386.9,321.77 L387.9,321.63 L388.9,321.48 L389.9,321.33 L390.9,321.18 L391.9,321.02 L392.9,320.87 L393.9,320.72 L394.9,320.57 L395.9,320.42 L396.9,320.29 L397.9,320.16 L398.9,320.05 L399.9,319.96 L400.9,319.88 L401.9,319.82 L402.9,319.79 L403.9,319.78 L404.9,319.79 L405.9,319.84 L406.9,319.91 L407.9,320.01 L408.9,320.14 L409.9,320.28 L410.9,320.44 L411.9,320.62 L412.9,320.81 L413.9,321.01 L414.9,321.21 L415.9,321.42 L416.9,321.62 L417.9,321.83 L418.9,322.03 L419.9,322.23 L420.9,322.42 L421.9,322.61 L422.9,322.79 L423.9,322.97 L424.9,323.14 L425.9,323.31 L426.9,323.47 L427.9,323.62 L428.9,323.77 L429.9,323.91 L430.9,324.04 L431.9,324.16 L432.9,324.28 L433.9,324.38 L434.9,324.48 L435.9,324.57 L436.9,324.65 L437.9,324.72 L438.9,324.78 L439.9,324.84 L440.9,324.87 L441.9,324.90 L442.9,324.92 L443.9,324.93 L444.9,324.92 L445.9,324.90 L446.9,324.87 L447.9,324.83 L448.9,324.77 L449.9,324.70 L450.9,324.62 L451.9,324.52 L452.9,324.41 L453.9,324.28 L454.9,324.14 L455.9,323.98 L456.9,323.82 L457.9,323.64 L458.9,323.46 L459.9,323.27 L460.9,323.08 L461.9,322.89 L462.9,322.70 L463.9,322.51 L464.9,322.33 L465.9,322.15 L466.9,321.98 L467.9,321.82 L468.9,321.67 L469.9,321.54 L470.9,321.42 L471.9,321.32 L472.9,321.24 L473.9,321.17 L474.9,321.12 L475.9,321.09 L476.9,321.06 L477.9,321.05 L478.9,321.04 L479.9,321.04 L480.9,321.05 L481.9,321.06 L482.9,321.08 L483.9,321.10 L484.9,321.11 L485.9,321.13 L486.9,321.14 L487.9,321.15 L488.9,321.16 L489.9,321.16 L490.9,321.14 L491.9,321.12 L492.9,321.09 L493.9,321.05 L494.9,320.99 L495.9,320.93 L496.9,320.85 L497.9,320.76 L498.9,320.65 L499.9,320.54 L500.9,320.41 L501.9,320.26 L502.9,320.11 L503.9,319.93 L504.9,319.75 L505.9,319.55 L506.9,319.33 L507.9,319.10 L508.9,318.86 L509.9,318.60 L510.9,318.34 L511.9,318.07 L512.9,317.80 L513.9,317.53 L514.9,317.27 L515.9,317.01 L516.9,316.77 L517.9,316.55 L518.9,316.34 L519.9,316.15 L520.9,315.99 L521.9,315.86 L522.9,315.76 L523.9,315.70 L524.9,315.67 L525.9,315.67 L526.9,315.69 L527.9,315.73 L528.9,315.76 L529.9,315.79 L530.9,315.81 L531.9,315.80 L532.9,315.76 L533.9,315.68 L534.9,315.57 L535.9,315.44 L536.9,315.30 L537.9,315.16 L538.9,315.01 L539.9,314.87 L540.9,314.76 L541.9,314.65 L542.9,314.57 L543.9,314.50 L544.9,314.44 L545.9,314.39 L546.9,314.36 L547.9,314.34 L548.9,314.32 L549.9,314.31 L550.9,314.31 L551.9,314.32 L552.9,314.33 L553.9,314.34 L554.9,314.35 L555.9,314.36 L556.9,314.37 L557.9,314.39 L558.9,314.39 L559.9,314.40 L560.9,314.39 L561.9,314.38 L562.9,314.37 L563.9,314.35 L564.9,314.32 L565.9,314.28 L566.9,314.24 L567.9,314.19 L568.9,314.13 L569.9,314.06 L570.9,313.99 L571.9,313.91 L572.9,313.83 L573.9,313.74 L574.9,313.64 L575.9,313.53 L576.9,313.42 L577.9,313.30 L578.9,313.17 L579.9,313.04 L580.9,312.90 L581.9,312.75 L582.9,312.60 L583.9,312.44 L584.9,312.27 L585.9,312.09 L586.9,311.91 L587.9,311.72 L588.9,311.52 L589.9,311.32 L590.9,311.11 L591.9,310.89 L592.9,310.66 L593.9,310.43 L594.9,310.19 L595.9,309.95 L596.9,309.70 L597.9,309.46 L598.9,309.21 L599.9,308.96 L600.9,308.71 L601.9,308.47 L602.9,308.23 L603.9,307.99 L604.9,307.76 L605.9,307.54 L606.9,307.33 L607.9,307.13 L608.9,306.94 L609.9,306.76 L610.9,306.60 L611.9,306.45 L612.9,306.32 L613.9,306.21 L614.9,306.12 L615.9,306.04 L616.9,305.97 L617.9,305.93 L618.9,305.89 L619.9,305.87 L620.9,305.86 L621.9,305.86 L622.9,305.87 L623.9,305.89 L624.9,305.92 L625.9,305.96 L626.9,306.00 L627.9,306.05 L628.9,306.10 L629.9,306.16 L630.9,306.22 L631.9,306.28 L632.9,306.35 L633.9,306.41 L634.9,306.48 L635.9,306.54 L636.9,306.60 L637.9,306.66 L638.9,306.71 L639.9,306.76 L640.9,306.80 L641.9,306.84 L642.9,306.87 L643.9,306.89 L644.9,306.90 L645.9,306.90 L646.9,306.89 L647.9,306.86 L648.9,306.83 L649.9,306.78 L650.9,306.71 L651.9,306.63 L652.9,306.54 L653.9,306.42 L654.5,306.35" fill="none" stroke="#fafaf0" stroke-width="1.3" stroke-linejoin="round" stroke-linecap="butt"/>
<path d="M83.1,402.22 L84.1,403.10 L85.1,403.90 L86.1,404.62 L87.1,405.28 L88.1,405.88 L89.1,406.42 L90.1,406.92 L91.1,407.37 L92.1,407.78 L93.1,408.17 L94.1,408.52 L95.1,408.86 L96.1,409.18 L97.1,409.50 L98.1,409.81 L99.1,410.13 L100.1,410.45 L101.1,410.80 L102.1,411.16 L103.1,411.54 L104.1,411.94 L105.1,412.37 L106.1,412.83 L107.1,413.32 L108.1,413.84 L109.1,414.39 L110.1,414.98 L111.1,415.60 L112.1,416.26 L113.1,416.96 L114.1,417.70 L115.1,418.49 L116.1,419.32 L117.1,420.18 L118.1,421.06 L119.1,421.96 L120.1,422.85 L121.1,423.74 L122.1,424.61 L123.1,425.46 L124.1,426.26 L125.1,427.02 L126.1,427.71 L127.1,428.31 L128.1,428.78 L129.1,429.10 L130.1,429.23 L131.1,429.16 L132.1,428.94 L133.1,428.68 L134.1,428.45 L135.1,428.31 L136.1,428.26 L137.1,428.29 L138.1,428.39 L139.1,428.55 L140.1,428.77 L141.1,429.03 L142.1,429.33 L143.1,429.65 L144.1,430.00 L145.1,430.35 L146.1,430.70 L147.1,431.05 L148.1,431.38 L149.1,431.69 L150.1,431.98 L151.1,432.24 L152.1,432.46 L153.1,432.65 L154.1,432.79 L155.1,432.89 L156.1,432.95 L157.1,432.97 L158.1,432.97 L159.1,432.95 L160.1,432.91 L161.1,432.87 L162.1,432.83 L163.1,432.80 L164.1,432.78 L165.1,432.76 L166.1,432.76 L167.1,432.75 L168.1,432.75 L169.1,432.75 L170.1,432.75 L171.1,432.74 L172.1,432.72 L173.1,432.69 L174.1,432.66 L175.1,432.61 L176.1,432.54 L177.1,432.45 L178.1,432.35 L179.1,432.22 L180.1,432.09 L181.1,431.93 L182.1,431.78 L183.1,431.61 L184.1,431.44 L185.1,431.28 L186.1,431.11 L187.1,430.96 L188.1,430.81 L189.1,430.68 L190.1,430.56 L191.1,430.47 L192.1,430.39 L193.1,430.35 L194.1,430.33 L195.1,430.34 L196.1,430.37 L197.1,430.44 L198.1,430.52 L199.1,430.62 L200.1,430.74 L201.1,430.87 L202.1,431.01 L203.1,431.17 L204.1,431.33 L205.1,431.49 L206.1,431.66 L207.1,431.83 L208.1,431.99 L209.1,432.15 L210.1,432.31 L211.1,432.45 L212.1,432.58 L213.1,432.70 L214.1,432.80 L215.1,432.89 L216.1,432.95 L217.1,432.98 L218.1,433.00 L219.1,432.99 L220.1,432.96 L221.1,432.91 L222.1,432.84 L223.1,432.75 L224.1,432.65 L225.1,432.54 L226.1,432.42 L227.1,432.29 L228.1,432.16 L229.1,432.02 L230.1,431.87 L231.1,431.73 L232.1,431.58 L233.1,431.44 L234.1,431.30 L235.1,431.17 L236.1,431.04 L237.1,430.93 L238.1,430.82 L239.1,430.71 L240.1,430.62 L241.1,430.53 L242.1,430.44 L243.1,430.37 L244.1,430.30 L245.1,430.24 L246.1,430.18 L247.1,430.13 L248.1,430.09 L249.1,430.05 L250.1,430.02 L251.1,430.00 L252.1,429.98 L253.1,429.96 L254.1,429.96 L255.1,429.95 L256.1,429.96 L257.1,429.96 L258.1,429.98 L259.1,430.00 L260.1,430.02 L261.1,430.05 L262.1,430.08 L263.1,430.12 L264.1,430.16 L265.1,430.20 L266.1,430.25 L267.1,430.31 L268.1,430.37 L269.1,430.43 L270.1,430.49 L271.1,430.56 L272.1,430.63 L273.1,430.71 L274.1,430.78 L275.1,430.85 L276.1,430.91 L277.1,430.98 L278.1,431.03 L279.1,431.08 L280.1,431.12 L281.1,431.14 L282.1,431.16 L283.1,431.16 L284.1,431.15 L285.1,431.12 L286.1,431.08 L287.1,431.01 L288.1,430.93 L289.1,430.82 L290.1,430.69 L291.1,430.54 L292.1,430.37 L293.1,430.19 L294.1,429.99 L295.1,429.79 L296.1,429.58 L297.1,429.37 L298.1,429.15 L299.1,428.94 L300.1,428.74 L301.1,428.55 L302.1,428.37 L303.1,428.20 L304.1,428.06 L305.1,427.93 L306.1,427.83 L307.1,427.76 L308.1,427.72 L309.1,427.71 L310.1,427.72 L311.1,427.76 L312.1,427.83 L313.1,427.91 L314.1,428.01 L315.1,428.13 L316.1,428.26 L317.1,428.40 L318.1,428.55 L319.1,428.71 L320.1,428.88 L321.1,429.04 L322.1,429.21 L323.1,429.37 L324.1,429.54 L325.1,429.69 L326.1,429.84 L327.1,429.97 L328.1,430.10 L329.1,430.20 L330.1,430.29 L331.1,430.37 L332.1,430.41 L333.1,430.44 L334.1,430.44 L335.1,430.41 L336.1,430.35 L337.1,430.26 L338.1,430.13 L339.1,429.96 L340.1,429.76 L341.1,429.51 L342.1,429.22 L343.1,428.89 L344.1,428.50 L345.1,428.07 L346.1,427.58 L347.1,427.04 L348.1,426.44 L349.1,425.78 L350.1,425.06 L351.1,424.30 L352.1,423.49 L353.1,422.64 L354.1,421.75 L355.1,420.84 L356.1,419.90 L357.1,418.94 L358.1,417.96 L359.1,416.98 L360.1,415.99 L361.1,415.01 L362.1,414.03 L363.1,413.06 L364.1,412.11 L365.1,411.19 L366.1,410.29 L367.1,409.42 L368.1,408.59 L369.1,407.81 L370.1,407.07 L371.1,406.38 L372.1,405.76 L373.1,405.19 L374.1,404.70 L375.1,404.28 L376.1,403.94 L377.1,403.69 L378.1,403.51 L379.1,403.41 L380.1,403.38 L381.1,403.41 L382.1,403.49 L383.1,403.63 L384.1,403.81 L385.1,404.03 L386.1,404.28 L387.1,404.56 L388.1,404.85 L389.1,405.16 L390.1,405.48 L391.1,405.80 L392.1,406.11 L393.1,406.41 L394.1,406.70 L395.1,406.96 L396.1,407.20 L397.1,407.42 L398.1,407.63 L399.1,407.85 L400.1,408.08 L401.1,408.33 L402.1,408.61 L403.1,408.93 L404.1,409.30 L405.1,409.73 L406.1,410.21 L407.1,410.74 L408.1,411.32 L409.1,411.92 L410.1,412.56 L411.1,413.22 L412.1,413.89 L413.1,414.56 L414.1,415.24 L415.1,415.91 L416.1,416.57 L417.1,417.24 L418.1,417.89 L419.1,418.54 L420.1,419.19 L421.1,419.83 L422.1,420.46 L423.1,421.08 L424.1,421.70 L425.1,422.31 L426.1,422.92 L427.1,423.51 L428.1,424.09 L429.1,424.67 L430.1,425.24 L431.1,425.80 L432.1,426.34 L433.1,426.88 L434.1,427.41 L435.1,427.92 L436.1,428.42 L437.1,428.92 L438.1,429.40 L439.1,429.86 L440.1,430.32 L441.1,430.76 L442.1,431.20 L443.1,431.62 L444.1,432.03 L445.1,432.42 L446.1,432.81 L447.1,433.18 L448.1,433.54 L449.1,433.89 L450.1,434.23 L451.1,434.56 L452.1,434.88 L453.1,435.18 L454.1,435.47 L455.1,435.76 L456.1,436.03 L457.1,436.28 L458.1,436.53 L459.1,436.77 L460.1,436.99 L461.1,437.19 L462.1,437.37 L463.1,437.54 L464.1,437.68 L465.1,437.79 L466.1,437.87 L467.1,437.93 L468.1,437.95 L469.1,437.93 L470.1,437.88 L471.1,437.79 L472.1,437.66 L473.1,437.48 L474.1,437.26 L475.1,436.99 L476.1,436.67 L477.1,436.31 L478.1,435.93 L479.1,435.53 L480.1,435.14 L481.1,434.75 L482.1,434.39 L483.1,434.06 L484.1,433.78 L485.1,433.56 L486.1,433.41 L487.1,433.33 L488.1,433.31 L489.1,433.35 L490.1,433.44 L491.1,433.56 L492.1,433.72 L493.1,433.89 L494.1,434.08 L495.1,434.28 L496.1,434.48 L497.1,434.66 L498.1,434.84 L499.1,435.01 L500.1,435.17 L501.1,435.32 L502.1,435.47 L503.1,435.61 L504.1,435.74 L505.1,435.86 L506.1,435.98 L507.1,436.09 L508.1,436.19 L509.1,436.29 L510.1,436.39 L511.1,436.48 L512.1,436.56 L513.1,436.64 L514.1,436.72 L515.1,436.79 L516.1,436.86 L517.1,436.92 L518.1,436.99 L519.1,437.04 L520.1,437.10 L521.1,437.15 L522.1,437.20 L523.1,437.24 L524.1,437.27 L525.1,437.30 L526.1,437.32 L527.1,437.33 L528.1,437.33 L529.1,437.33 L530.1,437.31 L531.1,437.29 L532.1,437.25 L533.1,437.20 L534.1,437.15 L535.1,437.08 L536.1,436.99 L537.1,436.90 L538.1,436.79 L539.1,436.66 L540.1,436.53 L541.1,436.39 L542.1,436.24 L543.1,436.09 L544.1,435.94 L545.1,435.80 L546.1,435.67 L547.1,435.55 L548.1,435.45 L549.1,435.36 L550.1,435.30 L551.1,435.26 L552.1,435.25 L553.1,435.27 L554.1,435.32 L555.1,435.42 L556.1,435.54 L557.1,435.69 L558.1,435.86 L559.1,436.06 L560.1,436.26 L561.1,436.48 L562.1,436.70 L563.1,436.93 L564.1,437.15 L565.1,437.36 L566.1,437.56 L567.1,437.75 L568.1,437.91 L569.1,438.05 L570.1,438.16 L571.1,438.24 L572.1,438.28 L573.1,438.29 L574.1,438.26 L575.1,438.20 L576.1,438.12 L577.1,438.02 L578.1,437.91 L579.1,437.77 L580.1,437.63 L581.1,437.49 L582.1,437.34 L583.1,437.19 L584.1,437.05 L585.1,436.92 L586.1,436.80 L587.1,436.70 L588.1,436.62 L589.1,436.56 L590.1,436.53 L591.1,436.52 L592.1,436.55 L593.1,436.59 L594.1,436.67 L595.1,436.77 L596.1,436.89 L597.1,437.05 L598.1,437.22 L599.1,437.42 L600.1,437.63 L601.1,437.86 L602.1,438.08 L603.1,438.30 L604.1,438.52 L605.1,438.71 L606.1,438.89 L607.1,439.03 L608.1,439.14 L609.1,439.21 L610.1,439.22 L611.1,439.18 L612.1,439.08 L613.1,438.92 L614.1,438.70 L615.1,438.44 L616.1,438.15 L617.1,437.82 L618.1,437.48 L619.1,437.12 L620.1,436.77 L621.1,436.41 L622.1,436.07 L623.1,435.74 L624.1,435.41 L625.1,435.11 L626.1,434.82 L627.1,434.54 L628.1,434.29 L629.1,434.06 L630.1,433.85 L631.1,433.67 L632.1,433.51 L633.1,433.39 L634.1,433.29 L635.1,433.23 L636.1,433.21 L637.1,433.22 L638.1,433.26 L639.1,433.33 L640.1,433.43 L641.1,433.56 L642.1,433.70 L643.1,433.86 L644.1,434.04 L645.1,434.23 L646.1,434.42 L647.1,434.62 L648.1,434.82 L649.1,435.02 L650.1,435.21 L651.1,435.39 L652.1,435.56 L653.1,435.72 L654.1,435.85 L654.5,435.90" fill="none" stroke="#4682bd" stroke-width="1.4" stroke-linejoin="round"/>
<path d="M83.1,391.33 L84.1,391.89 L85.1,392.38 L86.1,392.82 L87.1,393.20 L88.1,393.54 L89.1,393.84 L90.1,394.09 L91.1,394.31 L92.1,394.51 L93.1,394.68 L94.1,394.83 L95.1,394.96 L96.1,395.09 L97.1,395.21 L98.1,395.33 L99.1,395.46 L100.1,395.64 L101.1,395.93 L102.1,396.38 L103.1,397.04 L104.1,397.86 L105.1,398.77 L106.1,399.73 L107.1,400.66 L108.1,401.50 L109.1,402.20 L110.1,402.68 L111.1,402.93 L112.1,402.99 L113.1,402.92 L114.1,402.77 L115.1,402.61 L116.1,402.47 L117.1,402.42 L118.1,402.44 L119.1,402.53 L120.1,402.67 L121.1,402.86 L122.1,403.08 L123.1,403.33 L124.1,403.58 L125.1,403.82 L126.1,404.05 L127.1,404.23 L128.1,404.37 L129.1,404.44 L130.1,404.43 L131.1,404.36 L132.1,404.24 L133.1,404.08 L134.1,403.89 L135.1,403.68 L136.1,403.47 L137.1,403.26 L138.1,403.06 L139.1,402.89 L140.1,402.75 L141.1,402.63 L142.1,402.55 L143.1,402.50 L144.1,402.48 L145.1,402.50 L146.1,402.56 L147.1,402.65 L148.1,402.79 L149.1,402.96 L150.1,403.18 L151.1,403.43 L152.1,403.69 L153.1,403.94 L154.1,404.15 L155.1,404.30 L156.1,404.37 L157.1,404.33 L158.1,404.18 L159.1,403.95 L160.1,403.67 L161.1,403.39 L162.1,403.14 L163.1,402.95 L164.1,402.87 L165.1,402.90 L166.1,403.04 L167.1,403.29 L168.1,403.64 L169.1,404.09 L170.1,404.63 L171.1,405.26 L172.1,405.94 L173.1,406.65 L174.1,407.37 L175.1,408.06 L176.1,408.71 L177.1,409.27 L178.1,409.74 L179.1,410.09 L180.1,410.36 L181.1,410.53 L182.1,410.63 L183.1,410.66 L184.1,410.63 L185.1,410.55 L186.1,410.42 L187.1,410.26 L188.1,410.07 L189.1,409.87 L190.1,409.66 L191.1,409.45 L192.1,409.25 L193.1,409.06 L194.1,408.90 L195.1,408.78 L196.1,408.70 L197.1,408.67 L198.1,408.69 L199.1,408.76 L200.1,408.86 L201.1,408.99 L202.1,409.15 L203.1,409.32 L204.1,409.51 L205.1,409.70 L206.1,409.89 L207.1,410.08 L208.1,410.25 L209.1,410.41 L210.1,410.54 L211.1,410.63 L212.1,410.70 L213.1,410.72 L214.1,410.70 L215.1,410.68 L216.1,410.67 L217.1,410.69 L218.1,410.76 L219.1,410.90 L220.1,411.13 L221.1,411.45 L222.1,411.83 L223.1,412.24 L224.1,412.64 L225.1,413.01 L226.1,413.31 L227.1,413.52 L228.1,413.60 L229.1,413.60 L230.1,413.55 L231.1,413.48 L232.1,413.38 L233.1,413.26 L234.1,413.12 L235.1,412.96 L236.1,412.78 L237.1,412.58 L238.1,412.37 L239.1,412.13 L240.1,411.87 L241.1,411.60 L242.1,411.31 L243.1,411.00 L244.1,410.67 L245.1,410.32 L246.1,409.96 L247.1,409.57 L248.1,409.18 L249.1,408.76 L250.1,408.33 L251.1,407.88 L252.1,407.42 L253.1,406.94 L254.1,406.44 L255.1,405.95 L256.1,405.45 L257.1,404.95 L258.1,404.47 L259.1,403.99 L260.1,403.54 L261.1,403.11 L262.1,402.71 L263.1,402.35 L264.1,402.03 L265.1,401.75 L266.1,401.52 L267.1,401.35 L268.1,401.24 L269.1,401.16 L270.1,401.09 L271.1,401.01 L272.1,400.89 L273.1,400.71 L274.1,400.45 L275.1,400.07 L276.1,399.58 L277.1,399.01 L278.1,398.35 L279.1,397.64 L280.1,396.90 L281.1,396.13 L282.1,395.36 L283.1,394.60 L284.1,393.88 L285.1,393.21 L286.1,392.61 L287.1,392.09 L288.1,391.64 L289.1,391.24 L290.1,390.84 L291.1,390.42 L292.1,389.95 L293.1,389.40 L294.1,388.77 L295.1,388.08 L296.1,387.34 L297.1,386.58 L298.1,385.80 L299.1,385.01 L300.1,384.25 L301.1,383.53 L302.1,382.87 L303.1,382.29 L304.1,381.81 L305.1,381.46 L306.1,381.21 L307.1,381.08 L308.1,381.04 L309.1,381.10 L310.1,381.23 L311.1,381.44 L312.1,381.72 L313.1,382.05 L314.1,382.43 L315.1,382.85 L316.1,383.30 L317.1,383.77 L318.1,384.26 L319.1,384.75 L320.1,385.24 L321.1,385.71 L322.1,386.17 L323.1,386.59 L324.1,386.97 L325.1,387.29 L326.1,387.54 L327.1,387.69 L328.1,387.73 L329.1,387.66 L330.1,387.45 L331.1,387.10 L332.1,386.68 L333.1,386.25 L334.1,385.88 L335.1,385.64 L336.1,385.52 L337.1,385.50 L338.1,385.54 L339.1,385.63 L340.1,385.72 L341.1,385.81 L342.1,385.85 L343.1,385.83 L344.1,385.71 L345.1,385.49 L346.1,385.18 L347.1,384.79 L348.1,384.35 L349.1,383.86 L350.1,383.33 L351.1,382.79 L352.1,382.23 L353.1,381.69 L354.1,381.17 L355.1,380.67 L356.1,380.18 L357.1,379.73 L358.1,379.29 L359.1,378.88 L360.1,378.50 L361.1,378.14 L362.1,377.81 L363.1,377.50 L364.1,377.22 L365.1,376.98 L366.1,376.76 L367.1,376.57 L368.1,376.41 L369.1,376.28 L370.1,376.19 L371.1,376.13 L372.1,376.11 L373.1,376.13 L374.1,376.20 L375.1,376.30 L376.1,376.45 L377.1,376.64 L378.1,376.88 L379.1,377.17 L380.1,377.51 L381.1,377.90 L382.1,378.34 L383.1,378.81 L384.1,379.29 L385.1,379.75 L386.1,380.18 L387.1,380.56 L388.1,380.87 L389.1,381.08 L390.1,381.17 L391.1,381.13 L392.1,380.94 L393.1,380.57 L394.1,380.02 L395.1,379.32 L396.1,378.50 L397.1,377.56 L398.1,376.53 L399.1,375.45 L400.1,374.32 L401.1,373.17 L402.1,372.02 L403.1,370.90 L404.1,369.83 L405.1,368.83 L406.1,367.89 L407.1,367.02 L408.1,366.21 L409.1,365.44 L410.1,364.72 L411.1,364.04 L412.1,363.39 L413.1,362.77 L414.1,362.17 L415.1,361.58 L416.1,360.99 L417.1,360.41 L418.1,359.82 L419.1,359.23 L420.1,358.63 L421.1,358.03 L422.1,357.45 L423.1,356.90 L424.1,356.38 L425.1,355.91 L426.1,355.49 L427.1,355.14 L428.1,354.86 L429.1,354.67 L430.1,354.57 L431.1,354.56 L432.1,354.61 L433.1,354.69 L434.1,354.76 L435.1,354.78 L436.1,354.72 L437.1,354.54 L438.1,354.21 L439.1,353.69 L440.1,352.96 L441.1,352.05 L442.1,351.03 L443.1,349.93 L444.1,348.83 L445.1,347.77 L446.1,346.80 L447.1,345.92 L448.1,345.12 L449.1,344.40 L450.1,343.75 L451.1,343.16 L452.1,342.64 L453.1,342.16 L454.1,341.73 L455.1,341.33 L456.1,340.95 L457.1,340.57 L458.1,340.19 L459.1,339.80 L460.1,339.37 L461.1,338.91 L462.1,338.43 L463.1,337.94 L464.1,337.43 L465.1,336.92 L466.1,336.42 L467.1,335.93 L468.1,335.46 L469.1,335.02 L470.1,334.62 L471.1,334.25 L472.1,333.94 L473.1,333.69 L474.1,333.50 L475.1,333.38 L476.1,333.32 L477.1,333.31 L478.1,333.34 L479.1,333.39 L480.1,333.44 L481.1,333.50 L482.1,333.54 L483.1,333.55 L484.1,333.52 L485.1,333.43 L486.1,333.28 L487.1,333.04 L488.1,332.71 L489.1,332.28 L490.1,331.73 L491.1,331.09 L492.1,330.38 L493.1,329.60 L494.1,328.78 L495.1,327.93 L496.1,327.06 L497.1,326.18 L498.1,325.30 L499.1,324.42 L500.1,323.55 L501.1,322.69 L502.1,321.85 L503.1,321.04 L504.1,320.25 L505.1,319.51 L506.1,318.81 L507.1,318.17 L508.1,317.58 L509.1,317.07 L510.1,316.65 L511.1,316.33 L512.1,316.13 L513.1,316.05 L514.1,316.05 L515.1,316.10 L516.1,316.15 L517.1,316.16 L518.1,316.08 L519.1,315.88 L520.1,315.58 L521.1,315.22 L522.1,314.81 L523.1,314.40 L524.1,314.01 L525.1,313.66 L526.1,313.34 L527.1,313.07 L528.1,312.83 L529.1,312.62 L530.1,312.45 L531.1,312.31 L532.1,312.21 L533.1,312.13 L534.1,312.09 L535.1,312.08 L536.1,312.10 L537.1,312.15 L538.1,312.23 L539.1,312.33 L540.1,312.47 L541.1,312.64 L542.1,312.83 L543.1,313.04 L544.1,313.27 L545.1,313.51 L546.1,313.76 L547.1,314.02 L548.1,314.27 L549.1,314.53 L550.1,314.78 L551.1,315.01 L552.1,315.24 L553.1,315.44 L554.1,315.63 L555.1,315.78 L556.1,315.91 L557.1,316.01 L558.1,316.06 L559.1,316.09 L560.1,316.08 L561.1,316.04 L562.1,315.98 L563.1,315.91 L564.1,315.82 L565.1,315.72 L566.1,315.62 L567.1,315.53 L568.1,315.43 L569.1,315.33 L570.1,315.21 L571.1,315.08 L572.1,314.93 L573.1,314.76 L574.1,314.56 L575.1,314.32 L576.1,314.04 L577.1,313.72 L578.1,313.34 L579.1,312.92 L580.1,312.43 L581.1,311.89 L582.1,311.27 L583.1,310.58 L584.1,309.84 L585.1,309.04 L586.1,308.20 L587.1,307.33 L588.1,306.45 L589.1,305.55 L590.1,304.64 L591.1,303.71 L592.1,302.78 L593.1,301.83 L594.1,300.89 L595.1,299.93 L596.1,298.97 L597.1,298.02 L598.1,297.06 L599.1,296.10 L600.1,295.15 L601.1,294.20 L602.1,293.26 L603.1,292.33 L604.1,291.42 L605.1,290.51 L606.1,289.62 L607.1,288.75 L608.1,287.91 L609.1,287.12 L610.1,286.38 L611.1,285.72 L612.1,285.16 L613.1,284.70 L614.1,284.37 L615.1,284.18 L616.1,284.13 L617.1,284.20 L618.1,284.39 L619.1,284.67 L620.1,285.04 L621.1,285.47 L622.1,285.96 L623.1,286.48 L624.1,287.03 L625.1,287.60 L626.1,288.16 L627.1,288.70 L628.1,289.24 L629.1,289.79 L630.1,290.36 L631.1,290.95 L632.1,291.59 L633.1,292.27 L634.1,293.02 L635.1,293.84 L636.1,294.74 L637.1,295.73 L638.1,296.77 L639.1,297.80 L640.1,298.75 L641.1,299.56 L642.1,300.24 L643.1,300.81 L644.1,301.26 L645.1,301.60 L646.1,301.86 L647.1,302.02 L648.1,302.10 L649.1,302.11 L650.1,302.06 L651.1,302.00 L652.1,301.94 L653.1,301.91 L654.1,301.95 L654.5,301.99" fill="none" stroke="#f4f4ee" stroke-width="1.5" stroke-linejoin="round"/>
<path d="M83.1,391.33 L84.1,391.89 L85.1,392.38 L86.1,392.82 L87.1,393.20 L88.1,393.54 L89.1,393.84 L90.1,394.09 L91.1,394.31 L92.1,394.51 L93.1,394.68 L94.1,394.83 L95.1,394.96 L96.1,395.09 L97.1,395.21 L98.1,395.33 L99.1,395.46 L100.1,395.64 L101.1,395.93 L102.1,396.38 L103.1,397.04 L104.1,397.86 L105.1,398.77 L106.1,399.73 L107.1,400.66 L108.1,401.50 L109.1,402.20 L110.1,402.68 L111.1,402.93 L112.1,402.99 L113.1,402.92 L114.1,402.77 L115.1,402.61 L116.1,402.47 L117.1,402.42 L118.1,402.44 L119.1,402.53 L120.1,402.67 L121.1,402.86 L122.1,403.08 L123.1,403.33 L124.1,403.58 L125.1,403.82 L126.1,404.05 L127.1,404.23 L128.1,404.37 L129.1,404.44 L130.1,404.43 L131.1,404.36 L132.1,404.24 L133.1,404.08 L134.1,403.89 L135.1,403.68 L136.1,403.47 L137.1,403.26 L138.1,403.06 L139.1,402.89 L140.1,402.75 L141.1,402.63 L142.1,402.55 L143.1,402.50 L144.1,402.48 L145.1,402.50 L146.1,402.56 L147.1,402.65 L148.1,402.79 L149.1,402.96 L150.1,403.18 L151.1,403.43 L152.1,403.69 L153.1,403.94 L154.1,404.15 L155.1,404.30 L156.1,404.37 L157.1,404.33 L158.1,404.18 L159.1,403.95 L160.1,403.67 L161.1,403.39 L162.1,403.14 L163.1,402.95 L164.1,402.87 L165.1,402.90 L166.1,403.04 L167.1,403.29 L168.1,403.64 L169.1,404.09 L170.1,404.63 L171.1,405.26 L172.1,405.94 L173.1,406.65 L174.1,407.37 L175.1,408.06 L176.1,408.71 L177.1,409.27 L178.1,409.74 L179.1,410.09 L180.1,410.36 L181.1,410.53 L182.1,410.63 L183.1,410.66 L184.1,410.63 L185.1,410.55 L186.1,410.42 L187.1,410.26 L188.1,410.07 L189.1,409.87 L190.1,409.66 L191.1,409.45 L192.1,409.25 L193.1,409.06 L194.1,408.90 L195.1,408.78 L196.1,408.70 L197.1,408.67 L198.1,408.69 L199.1,408.76 L200.1,408.86 L201.1,408.99 L202.1,409.15 L203.1,409.32 L204.1,409.51 L205.1,409.70 L206.1,409.89 L207.1,410.08 L208.1,410.25 L209.1,410.41 L210.1,410.54 L211.1,410.63 L212.1,410.70 L213.1,410.72 L214.1,410.70 L215.1,410.68 L216.1,410.67 L217.1,410.69 L218.1,410.76 L219.1,410.90 L220.1,411.13 L221.1,411.45 L222.1,411.83 L223.1,412.24 L224.1,412.64 L225.1,413.01 L226.1,413.31 L227.1,413.52 L228.1,413.60 L229.1,413.60 L230.1,413.55 L231.1,413.48 L232.1,413.38 L233.1,413.26 L234.1,413.12 L235.1,412.96 L236.1,412.78 L237.1,412.58 L238.1,412.37 L239.1,412.13 L240.1,411.87 L241.1,411.60 L242.1,411.31 L243.1,411.00 L244.1,410.67 L245.1,410.32 L246.1,409.96 L247.1,409.57 L248.1,409.18 L249.1,408.76 L250.1,408.33 L251.1,407.88 L252.1,407.42 L253.1,406.94 L254.1,406.44 L255.1,405.95 L256.1,405.45 L257.1,404.95 L258.1,404.47 L259.1,403.99 L260.1,403.54 L261.1,403.11 L262.1,402.71 L263.1,402.35 L264.1,402.03 L265.1,401.75 L266.1,401.52 L267.1,401.35 L268.1,401.24 L269.1,401.16 L270.1,401.09 L271.1,401.01 L272.1,400.89 L273.1,400.71 L274.1,400.45 L275.1,400.07 L276.1,399.58 L277.1,399.01 L278.1,398.35 L279.1,397.64 L280.1,396.90 L281.1,396.13 L282.1,395.36 L283.1,394.60 L284.1,393.88 L285.1,393.21 L286.1,392.61 L287.1,392.09 L288.1,391.64 L289.1,391.24 L290.1,390.84 L291.1,390.42 L292.1,389.95 L293.1,389.40 L294.1,388.77 L295.1,388.08 L296.1,387.34 L297.1,386.58 L298.1,385.80 L299.1,385.01 L300.1,384.25 L301.1,383.53 L302.1,382.87 L303.1,382.29 L304.1,381.81 L305.1,381.46 L306.1,381.21 L307.1,381.08 L308.1,381.04 L309.1,381.10 L310.1,381.23 L311.1,381.44 L312.1,381.72 L313.1,382.05 L314.1,382.43 L315.1,382.85 L316.1,383.30 L317.1,383.77 L318.1,384.26 L319.1,384.75 L320.1,385.24 L321.1,385.71 L322.1,386.17 L323.1,386.59 L324.1,386.97 L325.1,387.29 L326.1,387.54 L327.1,387.69 L328.1,387.73 L329.1,387.66 L330.1,387.45 L331.1,387.10 L332.1,386.68 L333.1,386.25 L334.1,385.88 L335.1,385.64 L336.1,385.52 L337.1,385.50 L338.1,385.54 L339.1,385.63 L340.1,385.72 L341.1,385.81 L342.1,385.85 L343.1,385.83 L344.1,385.71 L345.1,385.49 L346.1,385.18 L347.1,384.79 L348.1,384.35 L349.1,383.86 L350.1,383.33 L351.1,382.79 L352.1,382.23 L353.1,381.69 L354.1,381.17 L355.1,380.67 L356.1,380.18 L357.1,379.73 L358.1,379.29 L359.1,378.88 L360.1,378.50 L361.1,378.14 L362.1,377.81 L363.1,377.50 L364.1,377.22 L365.1,376.98 L366.1,376.76 L367.1,376.57 L368.1,376.41 L369.1,376.28 L370.1,376.19 L371.1,376.13 L372.1,376.11 L373.1,376.13 L374.1,376.20 L375.1,376.30 L376.1,376.45 L377.1,376.64 L378.1,376.88 L379.1,377.17 L380.1,377.51 L381.1,377.90 L382.1,378.34 L383.1,378.81 L384.1,379.29 L385.1,379.75 L386.1,380.18 L387.1,380.56 L388.1,380.87 L389.1,381.08 L390.1,381.17 L391.1,381.13 L392.1,380.94 L393.1,380.57 L394.1,380.02 L395.1,379.32 L396.1,378.50 L397.1,377.56 L398.1,376.53 L399.1,375.45 L400.1,374.32 L401.1,373.17 L402.1,372.02 L403.1,370.90 L404.1,369.83 L405.1,368.83 L406.1,367.89 L407.1,367.02 L408.1,366.21 L409.1,365.44 L410.1,364.72 L411.1,364.04 L412.1,363.39 L413.1,362.77 L414.1,362.17 L415.1,361.58 L416.1,360.99 L417.1,360.41 L418.1,359.82 L419.1,359.23 L420.1,358.63 L421.1,358.03 L422.1,357.45 L423.1,356.90 L424.1,356.38 L425.1,355.91 L426.1,355.49 L427.1,355.14 L428.1,354.86 L429.1,354.67 L430.1,354.57 L431.1,354.56 L432.1,354.61 L433.1,354.69 L434.1,354.76 L435.1,354.78 L436.1,354.72 L437.1,354.54 L438.1,354.21 L439.1,353.69 L440.1,352.96 L441.1,352.05 L442.1,351.03 L443.1,349.93 L444.1,348.83 L445.1,347.77 L446.1,346.80 L447.1,345.92 L448.1,345.12 L449.1,344.40 L450.1,343.75 L451.1,343.16 L452.1,342.64 L453.1,342.16 L454.1,341.73 L455.1,341.33 L456.1,340.95 L457.1,340.57 L458.1,340.19 L459.1,339.80 L460.1,339.37 L461.1,338.91 L462.1,338.43 L463.1,337.94 L464.1,337.43 L465.1,336.92 L466.1,336.42 L467.1,335.93 L468.1,335.46 L469.1,335.02 L470.1,334.62 L471.1,334.25 L472.1,333.94 L473.1,333.69 L474.1,333.50 L475.1,333.38 L476.1,333.32 L477.1,333.31 L478.1,333.34 L479.1,333.39 L480.1,333.44 L481.1,333.50 L482.1,333.54 L483.1,333.55 L484.1,333.52 L485.1,333.43 L486.1,333.28 L487.1,333.04 L488.1,332.71 L489.1,332.28 L490.1,331.73 L491.1,331.09 L492.1,330.38 L493.1,329.60 L494.1,328.78 L495.1,327.93 L496.1,327.06 L497.1,326.18 L498.1,325.30 L499.1,324.42 L500.1,323.55 L501.1,322.69 L502.1,321.85 L503.1,321.04 L504.1,320.25 L505.1,319.51 L506.1,318.81 L507.1,318.17 L508.1,317.58 L509.1,317.07 L510.1,316.65 L511.1,316.33 L512.1,316.13 L513.1,316.05 L514.1,316.05 L515.1,316.10 L516.1,316.15 L517.1,316.16 L518.1,316.08 L519.1,315.88 L520.1,315.58 L521.1,315.22 L522.1,314.81 L523.1,314.40 L524.1,314.01 L525.1,313.66 L526.1,313.34 L527.1,313.07 L528.1,312.83 L529.1,312.62 L530.1,312.45 L531.1,312.31 L532.1,312.21 L533.1,312.13 L534.1,312.09 L535.1,312.08 L536.1,312.10 L537.1,312.15 L538.1,312.23 L539.1,312.33 L540.1,312.47 L541.1,312.64 L542.1,312.83 L543.1,313.04 L544.1,313.27 L545.1,313.51 L546.1,313.76 L547.1,314.02 L548.1,314.27 L549.1,314.53 L550.1,314.78 L551.1,315.01 L552.1,315.24 L553.1,315.44 L554.1,315.63 L555.1,315.78 L556.1,315.91 L557.1,316.01 L558.1,316.06 L559.1,316.09 L560.1,316.08 L561.1,316.04 L562.1,315.98 L563.1,315.91 L564.1,315.82 L565.1,315.72 L566.1,315.62 L567.1,315.53 L568.1,315.43 L569.1,315.33 L570.1,315.21 L571.1,315.08 L572.1,314.93 L573.1,314.76 L574.1,314.56 L575.1,314.32 L576.1,314.04 L577.1,313.72 L578.1,313.34 L579.1,312.92 L580.1,312.43 L581.1,311.89 L582.1,311.27 L583.1,310.58 L584.1,309.84 L585.1,309.04 L586.1,308.20 L587.1,307.33 L588.1,306.45 L589.1,305.55 L590.1,304.64 L591.1,303.71 L592.1,302.78 L593.1,301.83 L594.1,300.89 L595.1,299.93 L596.1,298.97 L597.1,298.02 L598.1,297.06 L599.1,296.10 L600.1,295.15 L601.1,294.20 L602.1,293.26 L603.1,292.33 L604.1,291.42 L605.1,290.51 L606.1,289.62 L607.1,288.75 L608.1,287.91 L609.1,287.12 L610.1,286.38 L611.1,285.72 L612.1,285.16 L613.1,284.70 L614.1,284.37 L615.1,284.18 L616.1,284.13 L617.1,284.20 L618.1,284.39 L619.1,284.67 L620.1,285.04 L621.1,285.47 L622.1,285.96 L623.1,286.48 L624.1,287.03 L625.1,287.60 L626.1,288.16 L627.1,288.70 L628.1,289.24 L629.1,289.79 L630.1,290.36 L631.1,290.95 L632.1,291.59 L633.1,292.27 L634.1,293.02 L635.1,293.84 L636.1,294.74 L637.1,295.73 L638.1,296.77 L639.1,297.80 L640.1,298.75 L641.1,299.56 L642.1,300.24 L643.1,300.81 L644.1,301.26 L645.1,301.60 L646.1,301.86 L647.1,302.02 L648.1,302.10 L649.1,302.11 L650.1,302.06 L651.1,302.00 L652.1,301.94 L653.1,301.91 L654.1,301.95 L654.5,301.99" fill="none" stroke="#4d8ac2" stroke-width="1.5" stroke-dasharray="3.9 2.0" stroke-linejoin="round"/>
<rect x="55.5" y="259.5" width="628.0" height="188.95" fill="none" stroke="#545454" stroke-width="1"/>
<line x1="52.5" y1="279.96" x2="55.5" y2="279.96" stroke="#545454" stroke-width="1"/>
<line x1="52.5" y1="310.155" x2="55.5" y2="310.155" stroke="#545454" stroke-width="1"/>
<line x1="52.5" y1="340.34999999999997" x2="55.5" y2="340.34999999999997" stroke="#545454" stroke-width="1"/>
<line x1="52.5" y1="370.54499999999996" x2="55.5" y2="370.54499999999996" stroke="#545454" stroke-width="1"/>
<line x1="52.5" y1="400.74" x2="55.5" y2="400.74" stroke="#545454" stroke-width="1"/>
<line x1="52.5" y1="430.93499999999995" x2="55.5" y2="430.93499999999995" stroke="#545454" stroke-width="1"/>
<line x1="81.45" y1="448.45" x2="81.45" y2="451.45" stroke="#545454" stroke-width="1"/>
<line x1="163.31" y1="448.45" x2="163.31" y2="451.45" stroke="#545454" stroke-width="1"/>
<line x1="256.87" y1="448.45" x2="256.87" y2="451.45" stroke="#545454" stroke-width="1"/>
<line x1="350.42" y1="448.45" x2="350.42" y2="451.45" stroke="#545454" stroke-width="1"/>
<line x1="443.98" y1="448.45" x2="443.98" y2="451.45" stroke="#545454" stroke-width="1"/>
<line x1="654.48" y1="448.45" x2="654.48" y2="451.45" stroke="#545454" stroke-width="1"/>
<text x="48.8" y="282.85999999999996" text-anchor="end" class="tk">30</text>
<text x="48.8" y="313.05499999999995" text-anchor="end" class="tk">25</text>
<text x="48.8" y="343.24999999999994" text-anchor="end" class="tk">20</text>
<text x="48.8" y="373.44499999999994" text-anchor="end" class="tk">15</text>
<text x="48.8" y="403.64" text-anchor="end" class="tk">10</text>
<text x="48.8" y="433.8349999999999" text-anchor="end" class="tk">5</text>
<text x="81.45" y="459.84999999999997" text-anchor="middle" class="tk">0.5</text>
<text x="163.31" y="459.84999999999997" text-anchor="middle" class="tk">4.0</text>
<text x="256.87" y="459.84999999999997" text-anchor="middle" class="tk">8.0</text>
<text x="350.42" y="459.84999999999997" text-anchor="middle" class="tk">12.0</text>
<text x="443.98" y="459.84999999999997" text-anchor="middle" class="tk">16.0</text>
<text x="654.48" y="459.84999999999997" text-anchor="middle" class="tk">25.0</text>
<text x="122.5" y="458.05" text-anchor="middle" class="gk">δ</text>
<text x="210.1" y="458.05" text-anchor="middle" class="gk">θ</text>
<text x="303.6" y="458.05" text-anchor="middle" class="gk">α</text>
<text x="397.1" y="458.05" text-anchor="middle" class="gk">σ</text>
<text x="549.1" y="458.05" text-anchor="middle" class="gk">β</text>
<text x="369" y="470.05" text-anchor="middle" class="lb" textLength="56.5" lengthAdjust="spacingAndGlyphs">Frequency [Hz]</text>
<text transform="translate(35.4,354.4) rotate(-90)" x="0" y="0" text-anchor="middle" class="lb" textLength="65.5" lengthAdjust="spacingAndGlyphs">Δ Magnitude [dB]</text>
</svg>
</body></html>
